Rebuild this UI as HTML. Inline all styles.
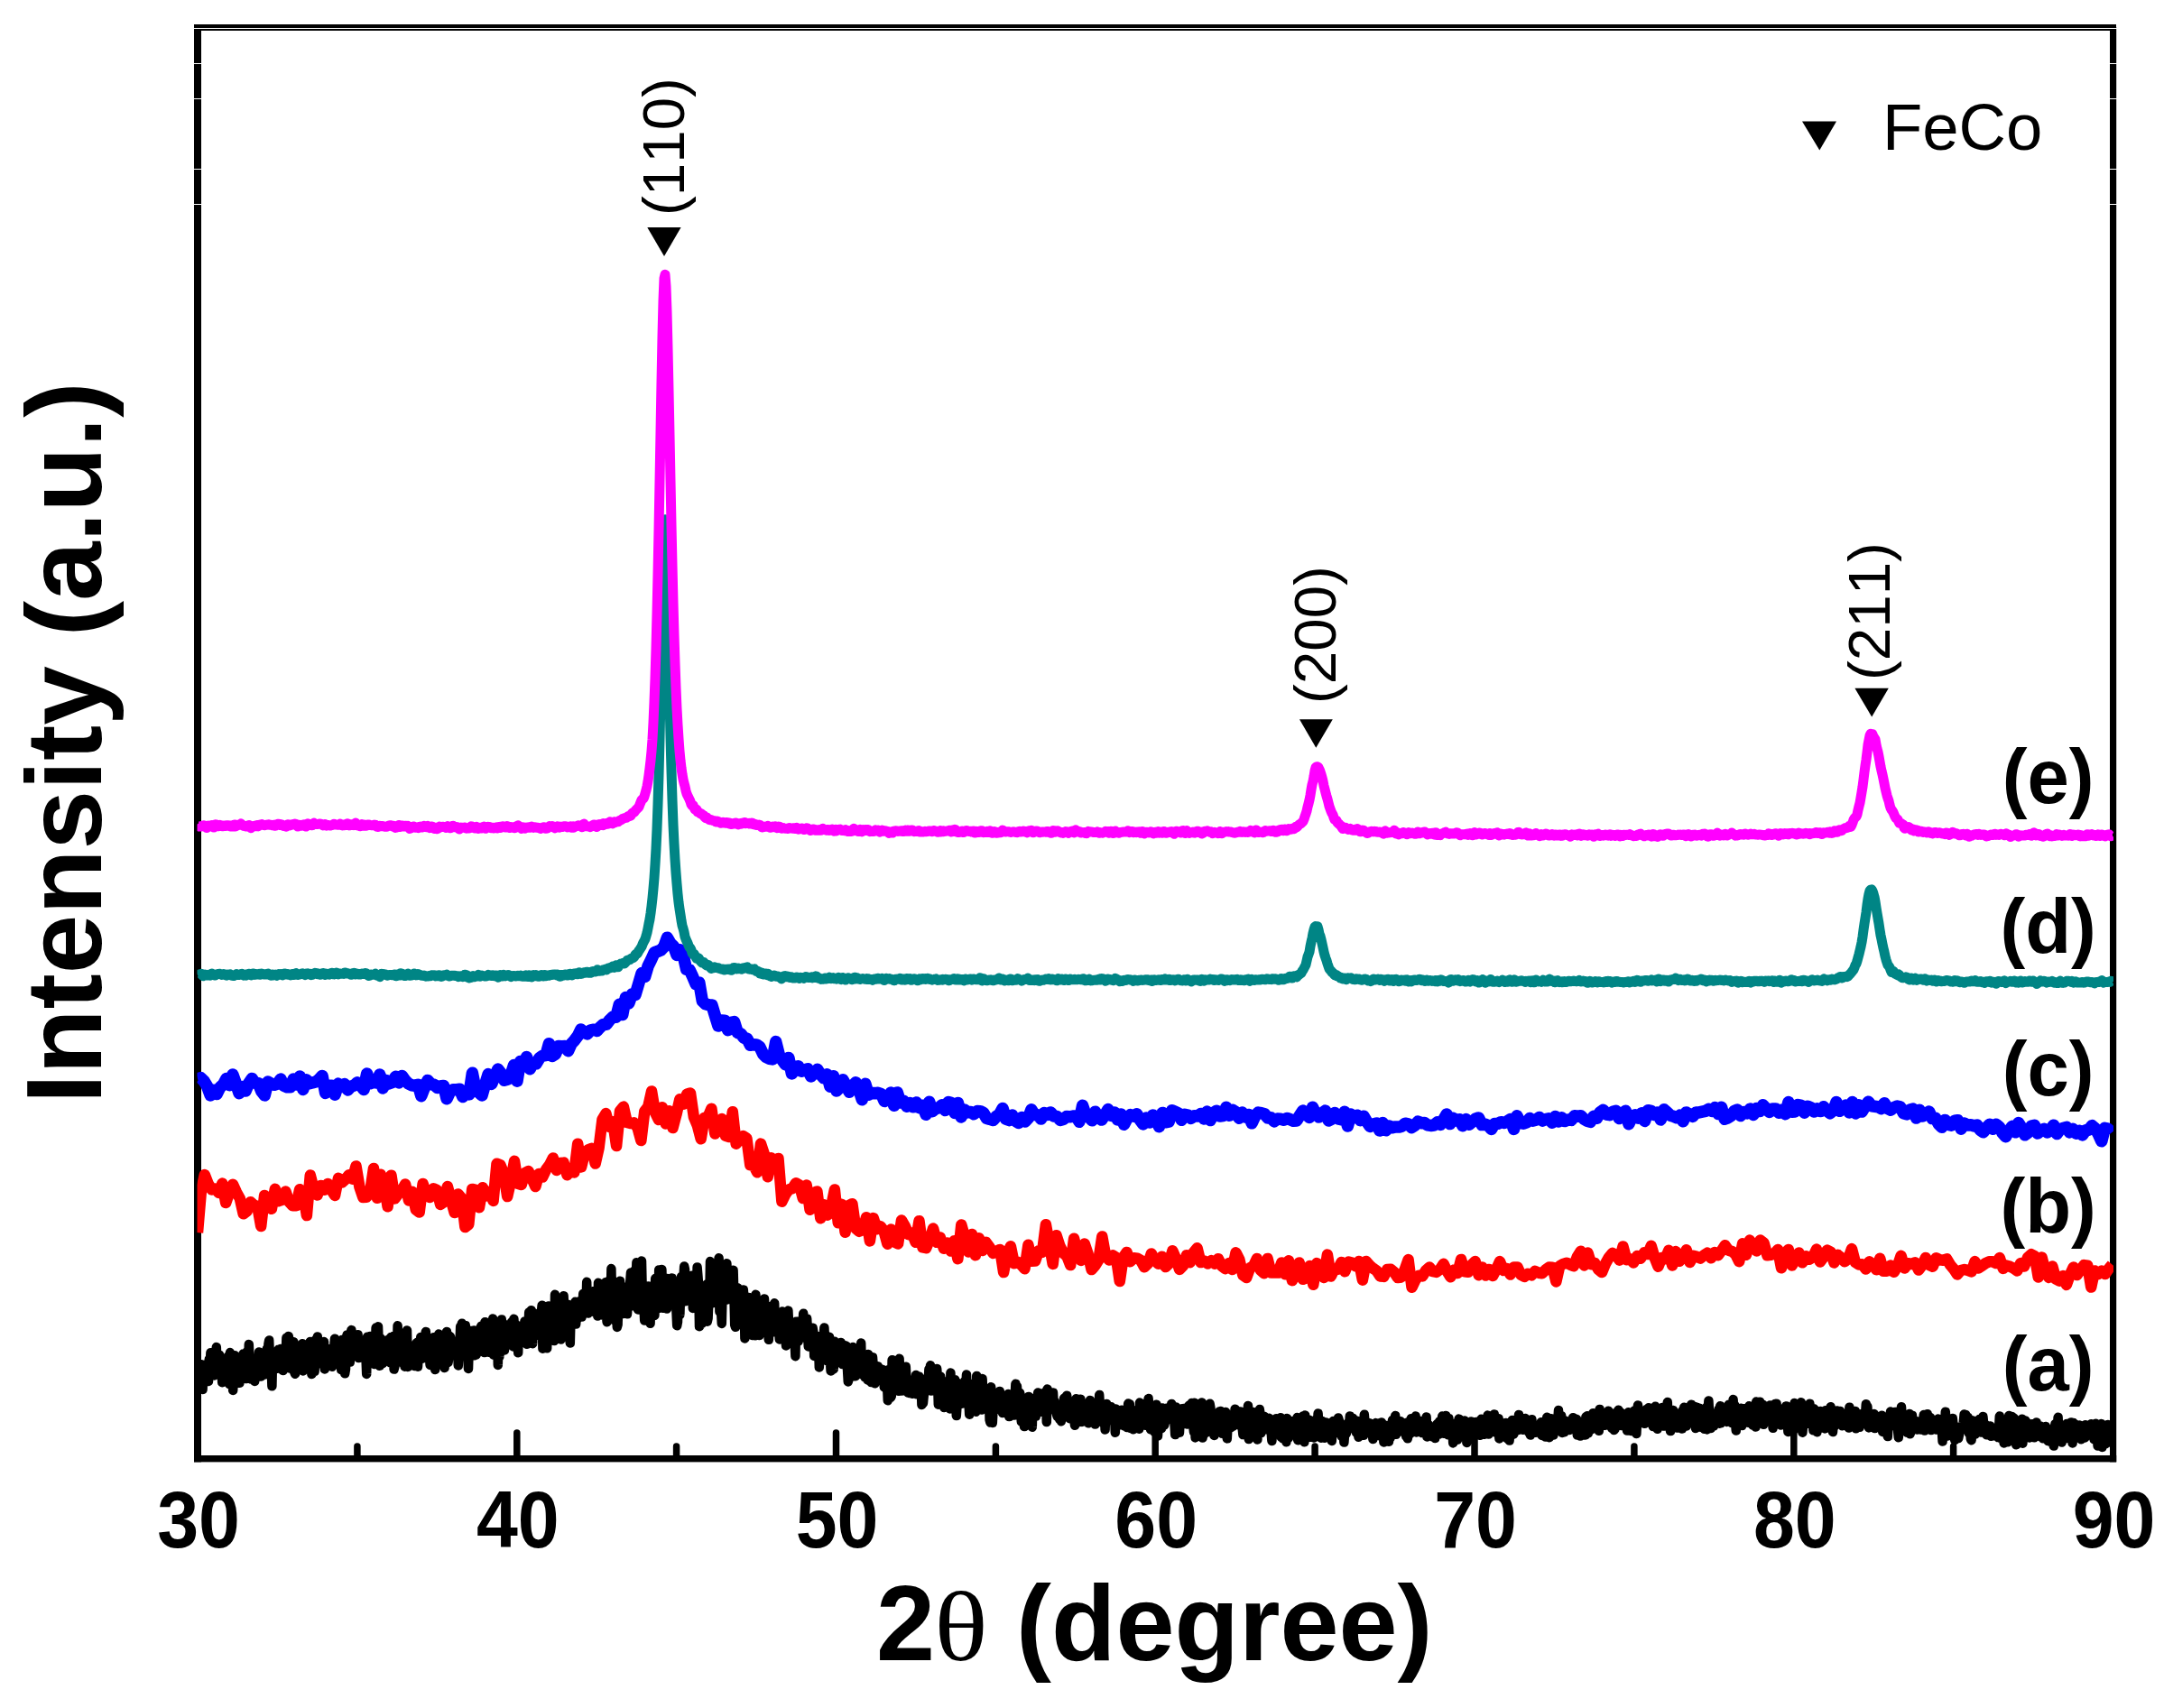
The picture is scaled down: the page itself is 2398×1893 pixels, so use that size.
<!DOCTYPE html>
<html lang="en"><head><meta charset="utf-8"><title>XRD patterns</title>
<style>html,body{margin:0;padding:0;background:#fff}svg{display:block}text{font-kerning:none;font-feature-settings:"kern" 0,"liga" 0}</style></head>
<body>
<svg width="2398" height="1893" viewBox="0 0 2398 1893">
<rect width="2398" height="1893" fill="#fff"/>
<g fill="#000">
<rect x="215" y="27" width="2130" height="7"/>
<rect x="215" y="30" width="8" height="1590.4"/>
<rect x="2338" y="30" width="7.2" height="1590.4"/>
<rect x="215" y="1613" width="2130.2" height="7.4"/>
</g>
<g fill="#fff">
<rect x="214" y="31" width="2132" height="1"/>
<rect x="214" y="70" width="10" height="1"/>
<rect x="2337" y="70" width="10" height="1"/>
<rect x="214" y="109" width="10" height="1"/>
<rect x="2337" y="109" width="10" height="1"/>
<rect x="214" y="187" width="10" height="1"/>
<rect x="2337" y="187" width="10" height="1"/>
<rect x="214" y="226" width="10" height="1"/>
<rect x="2337" y="226" width="10" height="1"/>
</g>
<g stroke="#000" stroke-width="7.5" stroke-linecap="round">
<line x1="395.9" y1="1603" x2="395.9" y2="1614"/>
<line x1="572.8" y1="1588" x2="572.8" y2="1614"/>
<line x1="749.6" y1="1603" x2="749.6" y2="1614"/>
<line x1="926.5" y1="1588" x2="926.5" y2="1614"/>
<line x1="1103.4" y1="1603" x2="1103.4" y2="1614"/>
<line x1="1280.2" y1="1588" x2="1280.2" y2="1614"/>
<line x1="1457.1" y1="1603" x2="1457.1" y2="1614"/>
<line x1="1634.0" y1="1588" x2="1634.0" y2="1614"/>
<line x1="1810.9" y1="1603" x2="1810.9" y2="1614"/>
<line x1="1987.8" y1="1588" x2="1987.8" y2="1614"/>
<line x1="2164.6" y1="1603" x2="2164.6" y2="1614"/>
</g>
<clipPath id="cp"><rect x="218.5" y="34" width="2123.5" height="1581"/></clipPath>
<g clip-path="url(#cp)">
<polyline fill="none" stroke="#000000" stroke-width="10.5" stroke-linejoin="round" stroke-linecap="butt" points="219.0,1524.8 219.8,1528.3 220.6,1521.3 221.4,1513.8 222.2,1518.9 223.0,1512.3 223.8,1524.7 224.6,1539.9 225.4,1517.8 226.2,1516.1 227.0,1529.2 227.8,1527.5 228.6,1524.3 229.4,1511.7 230.2,1522.4 231.0,1530.9 231.8,1506.3 232.6,1516.7 233.4,1499.2 234.2,1506.4 235.0,1499.6 235.8,1518.7 236.6,1506.2 237.4,1524.5 238.2,1523.0 239.0,1518.7 239.8,1493.1 240.6,1514.1 241.4,1519.8 242.2,1521.6 243.0,1501.7 243.8,1514.2 244.6,1508.0 245.4,1509.9 246.2,1532.2 247.0,1509.6 247.8,1518.7 248.6,1529.6 249.4,1511.8 250.2,1517.3 251.0,1519.8 251.8,1519.1 252.6,1503.4 253.4,1518.9 254.2,1534.1 255.0,1499.1 255.8,1527.8 256.6,1518.7 257.4,1509.4 258.2,1541.0 259.0,1526.0 259.8,1502.3 260.6,1517.4 261.4,1523.3 262.2,1513.9 263.0,1524.2 263.8,1515.1 264.6,1523.7 265.4,1532.8 266.2,1507.3 267.0,1517.7 267.8,1509.6 268.6,1516.6 269.4,1500.6 270.2,1507.8 271.0,1512.3 271.8,1525.3 272.6,1528.1 273.4,1498.3 274.2,1504.5 275.0,1521.7 275.8,1489.9 276.6,1508.1 277.4,1512.3 278.2,1528.5 279.0,1521.5 279.8,1509.2 280.6,1508.5 281.4,1509.8 282.2,1531.0 283.0,1507.4 283.8,1508.8 284.6,1516.5 285.4,1510.7 286.2,1509.6 287.0,1498.5 287.8,1511.6 288.6,1506.2 289.4,1525.4 290.2,1519.1 291.0,1510.9 291.8,1519.0 292.6,1506.8 293.4,1523.4 294.2,1510.5 295.0,1517.5 295.8,1494.8 296.6,1514.3 297.4,1489.8 298.2,1485.5 299.0,1506.1 299.8,1498.8 300.6,1511.5 301.4,1536.3 302.2,1499.2 303.0,1501.6 303.8,1511.4 304.6,1514.7 305.4,1506.5 306.2,1506.1 307.0,1516.8 307.8,1514.5 308.6,1495.7 309.4,1507.0 310.2,1508.3 311.0,1495.0 311.8,1510.7 312.6,1497.1 313.4,1519.0 314.2,1509.5 315.0,1508.1 315.8,1499.8 316.6,1505.4 317.4,1482.7 318.2,1493.0 319.0,1510.9 319.8,1480.9 320.6,1516.5 321.4,1485.3 322.2,1515.2 323.0,1495.9 323.8,1515.3 324.6,1507.4 325.4,1487.3 326.2,1520.6 327.0,1522.8 327.8,1504.6 328.6,1502.0 329.4,1503.3 330.2,1493.4 331.0,1518.2 331.8,1498.4 332.6,1504.2 333.4,1495.2 334.2,1497.1 335.0,1489.2 335.8,1519.5 336.6,1502.5 337.4,1515.8 338.2,1504.3 339.0,1495.7 339.8,1500.0 340.6,1497.1 341.4,1503.9 342.2,1499.2 343.0,1500.0 343.8,1486.9 344.6,1493.7 345.4,1523.1 346.2,1495.1 347.0,1490.4 347.8,1507.0 348.6,1519.8 349.4,1485.3 350.2,1500.2 351.0,1495.0 351.8,1481.4 352.6,1511.2 353.4,1502.0 354.2,1503.0 355.0,1493.1 355.8,1507.5 356.6,1495.4 357.4,1500.1 358.2,1488.4 359.0,1487.0 359.8,1517.5 360.6,1495.3 361.4,1504.8 362.2,1500.8 363.0,1495.8 363.8,1494.9 364.6,1508.5 365.4,1497.2 366.2,1498.9 367.0,1500.9 367.8,1514.7 368.6,1508.7 369.4,1505.0 370.2,1493.6 371.0,1483.8 371.8,1511.7 372.6,1511.9 373.4,1498.5 374.2,1506.7 375.0,1509.5 375.8,1510.1 376.6,1511.1 377.4,1494.6 378.2,1518.2 379.0,1485.0 379.8,1510.2 380.6,1505.8 381.4,1510.3 382.2,1522.3 383.0,1517.5 383.8,1486.0 384.6,1479.4 385.4,1509.4 386.2,1487.4 387.0,1499.4 387.8,1509.6 388.6,1479.7 389.4,1474.1 390.2,1502.5 391.0,1499.9 391.8,1496.3 392.6,1499.7 393.4,1488.9 394.2,1481.0 395.0,1497.1 395.8,1487.4 396.6,1479.3 397.4,1505.1 398.2,1498.2 399.0,1503.8 399.8,1487.0 400.6,1490.9 401.4,1486.8 402.2,1488.1 403.0,1501.1 403.8,1489.3 404.6,1502.9 405.4,1502.7 406.2,1522.9 407.0,1481.8 407.8,1509.1 408.6,1497.4 409.4,1498.2 410.2,1481.0 411.0,1492.8 411.8,1507.2 412.6,1497.2 413.4,1499.2 414.2,1494.7 415.0,1512.0 415.8,1497.8 416.6,1471.6 417.4,1489.7 418.2,1474.3 419.0,1470.3 419.8,1491.5 420.6,1513.8 421.4,1498.3 422.2,1483.7 423.0,1486.4 423.8,1511.2 424.6,1499.5 425.4,1498.1 426.2,1496.9 427.0,1497.9 427.8,1507.1 428.6,1504.0 429.4,1499.9 430.2,1484.8 431.0,1503.4 431.8,1489.0 432.6,1510.3 433.4,1481.9 434.2,1495.4 435.0,1497.0 435.8,1481.1 436.6,1517.6 437.4,1514.5 438.2,1491.3 439.0,1506.1 439.8,1501.3 440.6,1469.2 441.4,1499.7 442.2,1495.9 443.0,1497.6 443.8,1483.7 444.6,1493.3 445.4,1494.4 446.2,1510.7 447.0,1500.4 447.8,1496.3 448.6,1514.7 449.4,1489.6 450.2,1491.6 451.0,1474.4 451.8,1515.0 452.6,1507.7 453.4,1507.1 454.2,1504.1 455.0,1497.3 455.8,1498.5 456.6,1492.9 457.4,1493.4 458.2,1496.5 459.0,1513.9 459.8,1502.4 460.6,1495.0 461.4,1488.7 462.2,1488.0 463.0,1514.8 463.8,1501.6 464.6,1496.3 465.4,1491.3 466.2,1482.1 467.0,1494.5 467.8,1505.8 468.6,1490.6 469.4,1492.5 470.2,1492.5 471.0,1496.4 471.8,1476.0 472.6,1492.2 473.4,1484.7 474.2,1505.5 475.0,1485.5 475.8,1501.6 476.6,1512.9 477.4,1490.8 478.2,1487.2 479.0,1496.6 479.8,1494.2 480.6,1482.2 481.4,1499.6 482.2,1518.1 483.0,1490.7 483.8,1491.3 484.6,1481.1 485.4,1497.4 486.2,1478.5 487.0,1480.1 487.8,1508.6 488.6,1482.3 489.4,1506.0 490.2,1511.3 491.0,1496.0 491.8,1499.4 492.6,1516.1 493.4,1490.2 494.2,1485.4 495.0,1476.1 495.8,1492.8 496.6,1509.9 497.4,1503.6 498.2,1480.7 499.0,1481.6 499.8,1485.7 500.6,1495.2 501.4,1489.1 502.2,1494.1 503.0,1495.0 503.8,1487.7 504.6,1490.7 505.4,1493.6 506.2,1490.0 507.0,1497.0 507.8,1513.4 508.6,1497.9 509.4,1491.3 510.2,1470.1 511.0,1495.1 511.8,1466.7 512.6,1473.1 513.4,1500.5 514.2,1498.6 515.0,1488.1 515.8,1469.1 516.6,1485.2 517.4,1481.4 518.2,1497.3 519.0,1517.0 519.8,1492.0 520.6,1479.7 521.4,1474.9 522.2,1488.4 523.0,1486.8 523.8,1474.8 524.6,1490.2 525.4,1474.5 526.2,1502.2 527.0,1501.4 527.8,1501.6 528.6,1482.3 529.4,1494.3 530.2,1486.2 531.0,1482.9 531.8,1483.4 532.6,1471.4 533.4,1469.5 534.2,1497.0 535.0,1484.7 535.8,1489.6 536.6,1499.1 537.4,1465.2 538.2,1476.8 539.0,1488.5 539.8,1491.1 540.6,1481.4 541.4,1498.7 542.2,1488.4 543.0,1470.6 543.8,1473.9 544.6,1495.4 545.4,1491.0 546.2,1461.4 547.0,1501.8 547.8,1492.3 548.6,1501.4 549.4,1479.7 550.2,1480.7 551.0,1470.2 551.8,1512.9 552.6,1481.8 553.4,1503.7 554.2,1475.6 555.0,1485.6 555.8,1462.4 556.6,1478.5 557.4,1495.5 558.2,1467.3 559.0,1496.4 559.8,1487.0 560.6,1469.4 561.4,1476.1 562.2,1476.5 563.0,1481.6 563.8,1475.3 564.6,1471.4 565.4,1477.9 566.2,1468.6 567.0,1465.1 567.8,1480.7 568.6,1492.4 569.4,1461.7 570.2,1481.0 571.0,1472.5 571.8,1468.2 572.6,1491.4 573.4,1473.8 574.2,1499.3 575.0,1470.2 575.8,1484.9 576.6,1476.9 577.4,1470.0 578.2,1486.9 579.0,1477.2 579.8,1486.7 580.6,1478.1 581.4,1464.5 582.2,1476.8 583.0,1478.5 583.8,1489.8 584.6,1465.5 585.4,1476.3 586.2,1454.4 587.0,1484.6 587.8,1462.0 588.6,1452.3 589.4,1474.5 590.2,1489.2 591.0,1454.9 591.8,1460.2 592.6,1464.4 593.4,1459.0 594.2,1478.2 595.0,1462.5 595.8,1463.3 596.6,1479.9 597.4,1462.2 598.2,1477.3 599.0,1458.8 599.8,1455.3 600.6,1446.8 601.4,1494.8 602.2,1465.9 603.0,1473.0 603.8,1469.1 604.6,1471.4 605.4,1469.7 606.2,1494.3 607.0,1454.6 607.8,1447.4 608.6,1454.5 609.4,1449.9 610.2,1478.0 611.0,1478.8 611.8,1454.3 612.6,1448.1 613.4,1462.2 614.2,1486.1 615.0,1434.8 615.8,1473.8 616.6,1451.2 617.4,1480.6 618.2,1450.6 619.0,1461.5 619.8,1444.0 620.6,1451.1 621.4,1484.5 622.2,1476.1 623.0,1458.3 623.8,1451.3 624.6,1436.2 625.4,1457.5 626.2,1462.4 627.0,1461.4 627.8,1460.9 628.6,1445.5 629.4,1460.7 630.2,1460.8 631.0,1480.2 631.8,1488.5 632.6,1458.4 633.4,1448.7 634.2,1458.9 635.0,1450.4 635.8,1448.1 636.6,1458.1 637.4,1442.8 638.2,1467.6 639.0,1456.5 639.8,1461.6 640.6,1454.6 641.4,1445.9 642.2,1442.2 643.0,1452.9 643.8,1447.7 644.6,1459.6 645.4,1455.6 646.2,1433.9 647.0,1456.1 647.8,1433.5 648.6,1444.7 649.4,1449.4 650.2,1420.8 651.0,1455.0 651.8,1455.6 652.6,1450.4 653.4,1445.8 654.2,1446.3 655.0,1436.2 655.8,1447.3 656.6,1442.4 657.4,1452.7 658.2,1431.1 659.0,1454.5 659.8,1452.7 660.6,1447.7 661.4,1442.5 662.2,1458.6 663.0,1421.7 663.8,1456.5 664.6,1452.6 665.4,1453.0 666.2,1454.4 667.0,1437.0 667.8,1443.2 668.6,1457.8 669.4,1454.1 670.2,1450.1 671.0,1421.3 671.8,1455.0 672.6,1465.2 673.4,1462.2 674.2,1449.1 675.0,1419.2 675.8,1460.3 676.6,1442.0 677.4,1406.1 678.2,1450.1 679.0,1418.9 679.8,1421.8 680.6,1432.5 681.4,1463.8 682.2,1436.3 683.0,1446.7 683.8,1470.9 684.6,1468.0 685.4,1439.6 686.2,1437.0 687.0,1419.8 687.8,1429.0 688.6,1447.3 689.4,1446.5 690.2,1441.5 691.0,1455.9 691.8,1426.4 692.6,1438.1 693.4,1451.0 694.2,1448.4 695.0,1456.3 695.8,1444.9 696.6,1433.1 697.4,1444.1 698.2,1421.3 699.0,1410.6 699.8,1447.3 700.6,1436.6 701.4,1442.5 702.2,1409.0 703.0,1431.1 703.8,1427.0 704.6,1422.5 705.4,1399.2 706.2,1431.0 707.0,1451.4 707.8,1442.7 708.6,1426.2 709.4,1435.8 710.2,1448.5 711.0,1397.4 711.8,1433.6 712.6,1444.5 713.4,1446.7 714.2,1463.6 715.0,1454.0 715.8,1440.2 716.6,1439.8 717.4,1447.8 718.2,1425.5 719.0,1433.7 719.8,1449.4 720.6,1466.8 721.4,1431.3 722.2,1433.0 723.0,1437.0 723.8,1456.0 724.6,1432.9 725.4,1457.9 726.2,1417.0 727.0,1430.0 727.8,1429.6 728.6,1446.0 729.4,1450.2 730.2,1407.4 731.0,1417.3 731.8,1438.2 732.6,1421.5 733.4,1407.0 734.2,1449.8 735.0,1440.7 735.8,1440.6 736.6,1424.3 737.4,1449.5 738.2,1428.2 739.0,1450.6 739.8,1416.9 740.6,1417.8 741.4,1435.5 742.2,1420.2 743.0,1443.3 743.8,1436.3 744.6,1416.4 745.4,1433.1 746.2,1425.9 747.0,1447.1 747.8,1421.1 748.6,1424.3 749.4,1452.0 750.2,1469.2 751.0,1465.1 751.8,1432.6 752.6,1435.2 753.4,1457.2 754.2,1429.3 755.0,1415.0 755.8,1433.3 756.6,1438.9 757.4,1417.3 758.2,1403.5 759.0,1407.0 759.8,1442.3 760.6,1418.3 761.4,1428.7 762.2,1434.6 763.0,1441.4 763.8,1425.3 764.6,1439.3 765.4,1415.9 766.2,1424.8 767.0,1413.7 767.8,1450.0 768.6,1430.5 769.4,1418.6 770.2,1425.2 771.0,1427.4 771.8,1443.1 772.6,1404.4 773.4,1413.9 774.2,1425.0 775.0,1470.3 775.8,1447.7 776.6,1429.7 777.4,1443.7 778.2,1466.5 779.0,1427.8 779.8,1425.7 780.6,1452.4 781.4,1440.3 782.2,1443.4 783.0,1423.5 783.8,1464.7 784.6,1461.1 785.4,1441.8 786.2,1443.9 787.0,1398.1 787.8,1443.2 788.6,1429.2 789.4,1439.9 790.2,1444.2 791.0,1426.9 791.8,1404.1 792.6,1439.0 793.4,1420.3 794.2,1427.3 795.0,1422.8 795.8,1427.3 796.6,1394.2 797.4,1453.8 798.2,1437.5 799.0,1452.1 799.8,1466.9 800.6,1433.8 801.4,1403.0 802.2,1418.5 803.0,1413.3 803.8,1425.4 804.6,1435.5 805.4,1400.3 806.2,1440.4 807.0,1409.1 807.8,1440.1 808.6,1433.4 809.4,1430.2 810.2,1434.5 811.0,1426.8 811.8,1425.8 812.6,1407.8 813.4,1436.1 814.2,1468.3 815.0,1470.8 815.8,1459.8 816.6,1449.8 817.4,1427.3 818.2,1463.0 819.0,1439.0 819.8,1439.7 820.6,1437.1 821.4,1444.3 822.2,1437.1 823.0,1443.8 823.8,1429.4 824.6,1441.7 825.4,1483.4 826.2,1448.7 827.0,1447.3 827.8,1459.9 828.6,1463.6 829.4,1438.0 830.2,1452.2 831.0,1469.3 831.8,1460.8 832.6,1459.4 833.4,1480.0 834.2,1449.6 835.0,1460.6 835.8,1452.9 836.6,1480.3 837.4,1434.8 838.2,1452.3 839.0,1454.5 839.8,1470.3 840.6,1469.8 841.4,1480.0 842.2,1443.1 843.0,1472.2 843.8,1459.7 844.6,1455.5 845.4,1470.2 846.2,1453.0 847.0,1439.4 847.8,1460.1 848.6,1446.9 849.4,1457.3 850.2,1469.8 851.0,1469.3 851.8,1484.8 852.6,1463.7 853.4,1448.0 854.2,1457.6 855.0,1455.9 855.8,1452.6 856.6,1472.6 857.4,1460.0 858.2,1444.3 859.0,1476.5 859.8,1467.1 860.6,1472.9 861.4,1470.2 862.2,1476.7 863.0,1469.9 863.8,1484.4 864.6,1475.0 865.4,1474.9 866.2,1475.4 867.0,1453.5 867.8,1469.1 868.6,1468.2 869.4,1474.0 870.2,1455.7 871.0,1491.4 871.8,1473.5 872.6,1458.3 873.4,1452.6 874.2,1469.8 875.0,1472.3 875.8,1465.2 876.6,1475.1 877.4,1466.7 878.2,1481.1 879.0,1466.5 879.8,1474.9 880.6,1487.3 881.4,1503.2 882.2,1464.7 883.0,1471.4 883.8,1467.4 884.6,1486.9 885.4,1464.6 886.2,1472.7 887.0,1478.5 887.8,1467.7 888.6,1468.4 889.4,1474.4 890.2,1455.8 891.0,1463.8 891.8,1476.3 892.6,1483.2 893.4,1479.7 894.2,1461.6 895.0,1477.2 895.8,1492.4 896.6,1489.9 897.4,1482.9 898.2,1473.9 899.0,1491.9 899.8,1478.2 900.6,1471.7 901.4,1476.4 902.2,1503.0 903.0,1489.1 903.8,1500.4 904.6,1481.7 905.4,1498.6 906.2,1481.1 907.0,1486.6 907.8,1515.5 908.6,1498.1 909.4,1483.8 910.2,1489.0 911.0,1494.1 911.8,1504.8 912.6,1485.5 913.4,1471.4 914.2,1488.7 915.0,1492.5 915.8,1494.0 916.6,1508.3 917.4,1497.2 918.2,1503.4 919.0,1481.7 919.8,1504.8 920.6,1519.4 921.4,1504.5 922.2,1499.0 923.0,1498.2 923.8,1517.4 924.6,1486.7 925.4,1496.4 926.2,1503.4 927.0,1507.1 927.8,1493.9 928.6,1502.9 929.4,1496.6 930.2,1501.6 931.0,1499.1 931.8,1488.0 932.6,1501.2 933.4,1511.9 934.2,1491.2 935.0,1499.9 935.8,1510.7 936.6,1491.3 937.4,1506.0 938.2,1492.3 939.0,1517.7 939.8,1531.4 940.6,1528.6 941.4,1503.5 942.2,1514.9 943.0,1508.2 943.8,1508.4 944.6,1525.3 945.4,1493.1 946.2,1520.5 947.0,1508.4 947.8,1525.3 948.6,1511.9 949.4,1502.5 950.2,1513.7 951.0,1519.3 951.8,1511.8 952.6,1517.3 953.4,1506.3 954.2,1488.5 955.0,1523.1 955.8,1521.2 956.6,1515.4 957.4,1514.9 958.2,1526.2 959.0,1509.7 959.8,1507.3 960.6,1513.5 961.4,1529.4 962.2,1500.9 963.0,1530.2 963.8,1510.0 964.6,1505.3 965.4,1532.1 966.2,1517.3 967.0,1504.2 967.8,1515.2 968.6,1530.0 969.4,1533.3 970.2,1515.6 971.0,1525.3 971.8,1529.1 972.6,1514.3 973.4,1525.9 974.2,1521.9 975.0,1516.7 975.8,1517.6 976.6,1524.2 977.4,1524.2 978.2,1517.9 979.0,1519.9 979.8,1537.4 980.6,1527.8 981.4,1535.6 982.2,1539.5 983.0,1533.1 983.8,1552.2 984.6,1518.2 985.4,1536.7 986.2,1524.5 987.0,1548.9 987.8,1547.5 988.6,1507.3 989.4,1518.4 990.2,1536.7 991.0,1538.3 991.8,1537.8 992.6,1529.1 993.4,1535.0 994.2,1537.3 995.0,1529.4 995.8,1541.8 996.6,1505.7 997.4,1537.7 998.2,1519.5 999.0,1541.6 999.8,1528.6 1000.6,1521.5 1001.4,1535.6 1002.2,1521.6 1003.0,1521.7 1003.8,1514.7 1004.6,1531.7 1005.4,1537.6 1006.2,1543.5 1007.0,1530.9 1007.8,1544.1 1008.6,1533.0 1009.4,1531.9 1010.2,1539.3 1011.0,1544.8 1011.8,1529.6 1012.6,1530.8 1013.4,1531.9 1014.2,1534.7 1015.0,1524.1 1015.8,1545.3 1016.6,1529.9 1017.4,1539.4 1018.2,1525.5 1019.0,1538.6 1019.8,1539.1 1020.6,1530.4 1021.4,1557.1 1022.2,1539.3 1023.0,1554.8 1023.8,1546.1 1024.6,1528.6 1025.4,1531.8 1026.2,1540.9 1027.0,1537.1 1027.8,1537.1 1028.6,1533.7 1029.4,1517.4 1030.2,1534.7 1031.0,1513.3 1031.8,1541.6 1032.6,1529.9 1033.4,1530.2 1034.2,1535.8 1035.0,1541.3 1035.8,1523.1 1036.6,1519.9 1037.4,1527.4 1038.2,1517.1 1039.0,1528.9 1039.8,1556.7 1040.6,1528.3 1041.4,1547.0 1042.2,1525.4 1043.0,1543.6 1043.8,1537.1 1044.6,1540.1 1045.4,1547.1 1046.2,1560.0 1047.0,1543.4 1047.8,1542.9 1048.6,1531.3 1049.4,1548.2 1050.2,1539.5 1051.0,1551.2 1051.8,1542.0 1052.6,1561.4 1053.4,1521.6 1054.2,1539.9 1055.0,1552.7 1055.8,1539.7 1056.6,1535.2 1057.4,1541.0 1058.2,1529.3 1059.0,1545.6 1059.8,1569.1 1060.6,1556.9 1061.4,1533.0 1062.2,1535.8 1063.0,1541.0 1063.8,1556.2 1064.6,1536.9 1065.4,1538.5 1066.2,1555.5 1067.0,1555.5 1067.8,1542.5 1068.6,1534.7 1069.4,1530.3 1070.2,1539.6 1071.0,1523.5 1071.8,1555.3 1072.6,1540.8 1073.4,1552.8 1074.2,1567.7 1075.0,1560.4 1075.8,1535.9 1076.6,1557.5 1077.4,1560.7 1078.2,1540.7 1079.0,1538.7 1079.8,1547.8 1080.6,1532.2 1081.4,1564.8 1082.2,1525.1 1083.0,1537.9 1083.8,1546.9 1084.6,1547.5 1085.4,1551.8 1086.2,1553.1 1087.0,1548.1 1087.8,1562.5 1088.6,1528.1 1089.4,1550.8 1090.2,1543.5 1091.0,1552.5 1091.8,1553.6 1092.6,1541.9 1093.4,1544.9 1094.2,1560.1 1095.0,1555.6 1095.8,1545.0 1096.6,1573.7 1097.4,1576.6 1098.2,1537.2 1099.0,1555.9 1099.8,1577.0 1100.6,1561.3 1101.4,1555.5 1102.2,1551.2 1103.0,1547.9 1103.8,1551.5 1104.6,1548.1 1105.4,1561.8 1106.2,1550.0 1107.0,1549.7 1107.8,1541.9 1108.6,1554.1 1109.4,1545.5 1110.2,1553.1 1111.0,1566.0 1111.8,1559.1 1112.6,1560.7 1113.4,1559.3 1114.2,1556.3 1115.0,1554.5 1115.8,1552.8 1116.6,1563.9 1117.4,1544.9 1118.2,1570.1 1119.0,1556.7 1119.8,1548.7 1120.6,1551.5 1121.4,1549.6 1122.2,1558.3 1123.0,1549.4 1123.8,1568.6 1124.6,1548.9 1125.4,1533.8 1126.2,1549.6 1127.0,1536.7 1127.8,1556.9 1128.6,1568.1 1129.4,1564.0 1130.2,1543.9 1131.0,1549.9 1131.8,1575.7 1132.6,1561.0 1133.4,1557.9 1134.2,1568.6 1135.0,1581.1 1135.8,1571.1 1136.6,1559.6 1137.4,1561.8 1138.2,1564.5 1139.0,1552.3 1139.8,1547.9 1140.6,1559.1 1141.4,1549.2 1142.2,1558.1 1143.0,1559.8 1143.8,1581.7 1144.6,1550.6 1145.4,1557.9 1146.2,1557.5 1147.0,1563.5 1147.8,1569.6 1148.6,1554.6 1149.4,1551.4 1150.2,1543.5 1151.0,1550.6 1151.8,1565.0 1152.6,1560.3 1153.4,1550.0 1154.2,1556.3 1155.0,1560.4 1155.8,1565.0 1156.6,1554.5 1157.4,1557.9 1158.2,1542.8 1159.0,1549.4 1159.8,1576.1 1160.6,1539.6 1161.4,1557.5 1162.2,1562.9 1163.0,1557.3 1163.8,1553.2 1164.6,1560.5 1165.4,1561.1 1166.2,1560.4 1167.0,1543.4 1167.8,1560.0 1168.6,1553.3 1169.4,1556.4 1170.2,1563.8 1171.0,1567.7 1171.8,1570.2 1172.6,1557.2 1173.4,1570.6 1174.2,1573.0 1175.0,1572.8 1175.8,1575.2 1176.6,1560.9 1177.4,1560.7 1178.2,1570.1 1179.0,1549.8 1179.8,1564.5 1180.6,1557.8 1181.4,1559.4 1182.2,1546.8 1183.0,1554.7 1183.8,1562.8 1184.6,1571.3 1185.4,1572.3 1186.2,1562.5 1187.0,1561.6 1187.8,1555.8 1188.6,1567.2 1189.4,1561.3 1190.2,1569.2 1191.0,1579.7 1191.8,1563.5 1192.6,1550.3 1193.4,1556.2 1194.2,1550.9 1195.0,1553.4 1195.8,1576.0 1196.6,1566.4 1197.4,1550.8 1198.2,1570.4 1199.0,1575.9 1199.8,1561.4 1200.6,1558.7 1201.4,1561.8 1202.2,1567.4 1203.0,1570.7 1203.8,1575.6 1204.6,1575.9 1205.4,1575.7 1206.2,1577.3 1207.0,1571.2 1207.8,1552.0 1208.6,1564.4 1209.4,1568.4 1210.2,1562.3 1211.0,1573.7 1211.8,1562.6 1212.6,1557.7 1213.4,1578.6 1214.2,1571.8 1215.0,1568.0 1215.8,1574.2 1216.6,1575.5 1217.4,1569.2 1218.2,1546.0 1219.0,1560.4 1219.8,1562.4 1220.6,1557.8 1221.4,1568.3 1222.2,1577.1 1223.0,1562.4 1223.8,1556.7 1224.6,1584.6 1225.4,1562.8 1226.2,1556.0 1227.0,1569.0 1227.8,1570.7 1228.6,1560.8 1229.4,1574.1 1230.2,1562.9 1231.0,1559.1 1231.8,1568.9 1232.6,1574.1 1233.4,1561.8 1234.2,1570.4 1235.0,1566.7 1235.8,1587.8 1236.6,1561.4 1237.4,1579.9 1238.2,1567.3 1239.0,1566.7 1239.8,1574.2 1240.6,1575.8 1241.4,1579.2 1242.2,1571.0 1243.0,1562.8 1243.8,1563.5 1244.6,1572.7 1245.4,1573.4 1246.2,1580.7 1247.0,1572.1 1247.8,1577.8 1248.6,1581.9 1249.4,1570.1 1250.2,1555.6 1251.0,1558.3 1251.8,1556.1 1252.6,1582.9 1253.4,1561.4 1254.2,1579.8 1255.0,1574.2 1255.8,1584.2 1256.6,1578.0 1257.4,1568.3 1258.2,1567.5 1259.0,1570.1 1259.8,1570.9 1260.6,1564.8 1261.4,1569.2 1262.2,1583.7 1263.0,1554.6 1263.8,1572.0 1264.6,1561.8 1265.4,1571.5 1266.2,1577.3 1267.0,1569.4 1267.8,1576.8 1268.6,1556.1 1269.4,1579.8 1270.2,1564.9 1271.0,1575.7 1271.8,1571.9 1272.6,1550.1 1273.4,1563.8 1274.2,1572.4 1275.0,1584.2 1275.8,1573.1 1276.6,1572.9 1277.4,1558.3 1278.2,1583.4 1279.0,1586.7 1279.8,1571.1 1280.6,1569.0 1281.4,1556.8 1282.2,1578.8 1283.0,1591.4 1283.8,1577.5 1284.6,1582.4 1285.4,1576.1 1286.2,1562.7 1287.0,1583.2 1287.8,1560.6 1288.6,1569.7 1289.4,1574.1 1290.2,1579.4 1291.0,1575.4 1291.8,1575.2 1292.6,1565.1 1293.4,1560.6 1294.2,1572.5 1295.0,1565.8 1295.8,1560.6 1296.6,1561.0 1297.4,1567.9 1298.2,1556.0 1299.0,1560.5 1299.8,1558.0 1300.6,1574.0 1301.4,1576.0 1302.2,1590.1 1303.0,1559.4 1303.8,1566.6 1304.6,1580.6 1305.4,1570.8 1306.2,1569.8 1307.0,1587.7 1307.8,1569.8 1308.6,1562.7 1309.4,1561.4 1310.2,1575.8 1311.0,1575.6 1311.8,1561.1 1312.6,1564.5 1313.4,1577.7 1314.2,1578.1 1315.0,1567.6 1315.8,1578.6 1316.6,1578.2 1317.4,1557.8 1318.2,1570.6 1319.0,1576.9 1319.8,1568.4 1320.6,1555.0 1321.4,1571.0 1322.2,1580.0 1323.0,1587.1 1323.8,1554.7 1324.6,1593.4 1325.4,1564.0 1326.2,1581.9 1327.0,1584.3 1327.8,1582.2 1328.6,1575.1 1329.4,1563.9 1330.2,1579.2 1331.0,1567.8 1331.8,1554.4 1332.6,1593.6 1333.4,1580.1 1334.2,1589.6 1335.0,1566.4 1335.8,1586.6 1336.6,1587.7 1337.4,1587.4 1338.2,1574.1 1339.0,1564.2 1339.8,1572.9 1340.6,1555.8 1341.4,1560.1 1342.2,1575.3 1343.0,1566.2 1343.8,1573.2 1344.6,1573.7 1345.4,1590.9 1346.2,1585.6 1347.0,1574.3 1347.8,1584.9 1348.6,1568.3 1349.4,1572.0 1350.2,1582.5 1351.0,1564.5 1351.8,1572.6 1352.6,1564.0 1353.4,1576.0 1354.2,1588.7 1355.0,1568.9 1355.8,1577.0 1356.6,1567.7 1357.4,1565.7 1358.2,1565.0 1359.0,1587.4 1359.8,1594.4 1360.6,1579.4 1361.4,1569.5 1362.2,1581.3 1363.0,1572.8 1363.8,1582.2 1364.6,1578.0 1365.4,1577.9 1366.2,1580.7 1367.0,1570.9 1367.8,1572.4 1368.6,1561.7 1369.4,1572.2 1370.2,1564.2 1371.0,1574.7 1371.8,1568.1 1372.6,1576.8 1373.4,1579.7 1374.2,1564.5 1375.0,1569.5 1375.8,1568.5 1376.6,1582.3 1377.4,1590.1 1378.2,1583.2 1379.0,1573.5 1379.8,1588.2 1380.6,1564.1 1381.4,1588.6 1382.2,1571.2 1383.0,1557.9 1383.8,1595.1 1384.6,1589.3 1385.4,1568.3 1386.2,1578.0 1387.0,1575.0 1387.8,1577.6 1388.6,1564.9 1389.4,1571.3 1390.2,1580.6 1391.0,1578.7 1391.8,1586.6 1392.6,1577.7 1393.4,1595.5 1394.2,1571.5 1395.0,1579.3 1395.8,1562.1 1396.6,1567.5 1397.4,1588.1 1398.2,1570.2 1399.0,1582.0 1399.8,1577.4 1400.6,1569.8 1401.4,1575.4 1402.2,1574.2 1403.0,1574.5 1403.8,1584.3 1404.6,1583.6 1405.4,1574.2 1406.2,1571.7 1407.0,1581.1 1407.8,1578.2 1408.6,1587.0 1409.4,1596.9 1410.2,1585.8 1411.0,1579.1 1411.8,1578.2 1412.6,1573.1 1413.4,1572.8 1414.2,1572.2 1415.0,1576.9 1415.8,1576.8 1416.6,1585.8 1417.4,1577.2 1418.2,1578.9 1419.0,1571.3 1419.8,1593.0 1420.6,1584.5 1421.4,1594.2 1422.2,1586.8 1423.0,1592.1 1423.8,1579.1 1424.6,1586.4 1425.4,1598.2 1426.2,1572.1 1427.0,1589.9 1427.8,1593.7 1428.6,1584.3 1429.4,1586.9 1430.2,1590.7 1431.0,1576.4 1431.8,1584.4 1432.6,1574.9 1433.4,1576.4 1434.2,1576.9 1435.0,1580.4 1435.8,1582.6 1436.6,1584.9 1437.4,1571.1 1438.2,1596.2 1439.0,1590.2 1439.8,1587.0 1440.6,1579.1 1441.4,1581.1 1442.2,1585.8 1443.0,1584.8 1443.8,1569.6 1444.6,1587.3 1445.4,1598.2 1446.2,1568.6 1447.0,1589.2 1447.8,1584.7 1448.6,1581.2 1449.4,1591.9 1450.2,1573.6 1451.0,1583.3 1451.8,1592.7 1452.6,1580.8 1453.4,1579.2 1454.2,1583.1 1455.0,1579.1 1455.8,1593.4 1456.6,1575.8 1457.4,1588.7 1458.2,1573.4 1459.0,1587.3 1459.8,1581.7 1460.6,1566.5 1461.4,1582.5 1462.2,1574.9 1463.0,1579.4 1463.8,1593.7 1464.6,1574.7 1465.4,1575.1 1466.2,1593.1 1467.0,1583.6 1467.8,1593.8 1468.6,1585.2 1469.4,1576.6 1470.2,1582.4 1471.0,1591.7 1471.8,1589.7 1472.6,1583.0 1473.4,1583.4 1474.2,1582.3 1475.0,1579.0 1475.8,1596.9 1476.6,1583.2 1477.4,1575.1 1478.2,1579.8 1479.0,1588.4 1479.8,1587.9 1480.6,1582.3 1481.4,1578.6 1482.2,1583.6 1483.0,1571.5 1483.8,1574.2 1484.6,1589.1 1485.4,1580.1 1486.2,1586.1 1487.0,1592.2 1487.8,1588.1 1488.6,1583.6 1489.4,1598.6 1490.2,1588.2 1491.0,1581.0 1491.8,1588.7 1492.6,1586.4 1493.4,1577.4 1494.2,1584.0 1495.0,1582.3 1495.8,1569.5 1496.6,1582.2 1497.4,1581.4 1498.2,1580.3 1499.0,1571.8 1499.8,1580.9 1500.6,1583.2 1501.4,1584.2 1502.2,1575.4 1503.0,1587.9 1503.8,1574.8 1504.6,1581.9 1505.4,1592.7 1506.2,1578.5 1507.0,1579.8 1507.8,1591.0 1508.6,1580.7 1509.4,1581.3 1510.2,1585.0 1511.0,1590.8 1511.8,1567.8 1512.6,1577.6 1513.4,1576.3 1514.2,1575.8 1515.0,1577.4 1515.8,1577.5 1516.6,1585.5 1517.4,1577.2 1518.2,1584.3 1519.0,1586.3 1519.8,1578.3 1520.6,1584.4 1521.4,1595.0 1522.2,1585.7 1523.0,1579.0 1523.8,1583.0 1524.6,1577.1 1525.4,1585.4 1526.2,1589.6 1527.0,1577.8 1527.8,1582.1 1528.6,1591.3 1529.4,1580.1 1530.2,1584.9 1531.0,1576.4 1531.8,1577.9 1532.6,1580.0 1533.4,1598.5 1534.2,1580.8 1535.0,1580.0 1535.8,1579.8 1536.6,1582.5 1537.4,1588.1 1538.2,1585.0 1539.0,1597.7 1539.8,1585.1 1540.6,1593.6 1541.4,1585.6 1542.2,1587.8 1543.0,1573.9 1543.8,1582.9 1544.6,1583.3 1545.4,1582.1 1546.2,1569.1 1547.0,1589.8 1547.8,1581.1 1548.6,1580.8 1549.4,1582.1 1550.2,1582.3 1551.0,1586.6 1551.8,1575.2 1552.6,1577.5 1553.4,1585.8 1554.2,1584.8 1555.0,1581.3 1555.8,1580.0 1556.6,1578.2 1557.4,1583.5 1558.2,1591.9 1559.0,1576.7 1559.8,1594.3 1560.6,1589.7 1561.4,1580.9 1562.2,1589.3 1563.0,1574.0 1563.8,1572.2 1564.6,1575.3 1565.4,1581.2 1566.2,1581.8 1567.0,1580.5 1567.8,1584.7 1568.6,1569.6 1569.4,1587.4 1570.2,1574.5 1571.0,1579.6 1571.8,1581.3 1572.6,1576.3 1573.4,1574.8 1574.2,1577.3 1575.0,1584.0 1575.8,1588.1 1576.6,1587.9 1577.4,1577.4 1578.2,1578.8 1579.0,1577.9 1579.8,1587.2 1580.6,1570.4 1581.4,1592.5 1582.2,1580.9 1583.0,1578.9 1583.8,1586.5 1584.6,1591.2 1585.4,1586.5 1586.2,1591.3 1587.0,1585.2 1587.8,1592.5 1588.6,1592.6 1589.4,1583.6 1590.2,1594.0 1591.0,1585.4 1591.8,1584.9 1592.6,1578.1 1593.4,1582.4 1594.2,1589.6 1595.0,1575.5 1595.8,1588.7 1596.6,1586.7 1597.4,1586.2 1598.2,1569.6 1599.0,1583.7 1599.8,1588.7 1600.6,1579.3 1601.4,1585.0 1602.2,1569.0 1603.0,1588.9 1603.8,1580.0 1604.6,1590.3 1605.4,1572.1 1606.2,1589.1 1607.0,1582.9 1607.8,1589.9 1608.6,1578.3 1609.4,1580.3 1610.2,1599.4 1611.0,1578.8 1611.8,1579.6 1612.6,1582.5 1613.4,1577.5 1614.2,1592.2 1615.0,1595.7 1615.8,1579.5 1616.6,1572.6 1617.4,1591.9 1618.2,1591.5 1619.0,1589.5 1619.8,1591.7 1620.6,1578.2 1621.4,1582.8 1622.2,1574.7 1623.0,1574.5 1623.8,1590.4 1624.6,1579.4 1625.4,1599.0 1626.2,1584.3 1627.0,1579.5 1627.8,1589.0 1628.6,1595.6 1629.4,1586.9 1630.2,1575.5 1631.0,1586.0 1631.8,1592.7 1632.6,1580.2 1633.4,1578.3 1634.2,1590.2 1635.0,1584.3 1635.8,1576.1 1636.6,1580.8 1637.4,1578.3 1638.2,1585.2 1639.0,1584.0 1639.8,1590.8 1640.6,1587.9 1641.4,1572.8 1642.2,1585.8 1643.0,1589.0 1643.8,1586.1 1644.6,1589.8 1645.4,1579.4 1646.2,1576.7 1647.0,1589.1 1647.8,1575.8 1648.6,1568.6 1649.4,1589.6 1650.2,1578.0 1651.0,1580.7 1651.8,1573.5 1652.6,1573.9 1653.4,1575.0 1654.2,1580.2 1655.0,1585.0 1655.8,1567.4 1656.6,1587.5 1657.4,1574.7 1658.2,1575.4 1659.0,1586.9 1659.8,1581.9 1660.6,1572.3 1661.4,1594.5 1662.2,1576.6 1663.0,1583.9 1663.8,1583.5 1664.6,1591.5 1665.4,1579.2 1666.2,1588.8 1667.0,1577.2 1667.8,1589.4 1668.6,1577.0 1669.4,1579.6 1670.2,1594.4 1671.0,1584.0 1671.8,1582.6 1672.6,1596.6 1673.4,1584.2 1674.2,1576.5 1675.0,1586.6 1675.8,1574.0 1676.6,1589.1 1677.4,1589.5 1678.2,1577.9 1679.0,1577.5 1679.8,1582.7 1680.6,1581.5 1681.4,1575.0 1682.2,1585.1 1683.0,1568.0 1683.8,1578.4 1684.6,1578.5 1685.4,1579.3 1686.2,1583.1 1687.0,1573.0 1687.8,1584.8 1688.6,1579.7 1689.4,1576.6 1690.2,1571.9 1691.0,1573.0 1691.8,1583.0 1692.6,1574.4 1693.4,1581.0 1694.2,1587.5 1695.0,1587.2 1695.8,1590.6 1696.6,1578.4 1697.4,1573.3 1698.2,1586.9 1699.0,1582.2 1699.8,1587.5 1700.6,1580.2 1701.4,1587.8 1702.2,1585.5 1703.0,1584.6 1703.8,1583.2 1704.6,1582.4 1705.4,1581.3 1706.2,1581.2 1707.0,1586.1 1707.8,1576.3 1708.6,1590.9 1709.4,1578.8 1710.2,1585.9 1711.0,1578.8 1711.8,1577.7 1712.6,1592.6 1713.4,1577.2 1714.2,1570.8 1715.0,1574.4 1715.8,1577.0 1716.6,1593.2 1717.4,1580.3 1718.2,1585.1 1719.0,1572.2 1719.8,1581.1 1720.6,1583.2 1721.4,1590.6 1722.2,1574.0 1723.0,1582.6 1723.8,1580.5 1724.6,1571.7 1725.4,1578.3 1726.2,1576.6 1727.0,1563.0 1727.8,1582.3 1728.6,1581.8 1729.4,1575.2 1730.2,1569.2 1731.0,1587.9 1731.8,1579.8 1732.6,1584.7 1733.4,1587.3 1734.2,1574.4 1735.0,1583.2 1735.8,1576.1 1736.6,1577.3 1737.4,1577.0 1738.2,1577.6 1739.0,1585.0 1739.8,1578.3 1740.6,1576.4 1741.4,1575.5 1742.2,1579.6 1743.0,1571.2 1743.8,1573.8 1744.6,1576.8 1745.4,1573.3 1746.2,1576.2 1747.0,1572.8 1747.8,1590.5 1748.6,1585.9 1749.4,1579.9 1750.2,1576.4 1751.0,1591.6 1751.8,1578.8 1752.6,1576.0 1753.4,1578.6 1754.2,1578.6 1755.0,1586.0 1755.8,1576.3 1756.6,1590.6 1757.4,1570.3 1758.2,1581.0 1759.0,1569.3 1759.8,1588.5 1760.6,1573.8 1761.4,1575.6 1762.2,1582.3 1763.0,1584.5 1763.8,1568.2 1764.6,1573.4 1765.4,1566.2 1766.2,1576.6 1767.0,1575.0 1767.8,1573.2 1768.6,1570.8 1769.4,1572.8 1770.2,1570.3 1771.0,1579.0 1771.8,1585.8 1772.6,1561.9 1773.4,1574.4 1774.2,1572.3 1775.0,1578.5 1775.8,1568.5 1776.6,1574.0 1777.4,1567.8 1778.2,1579.7 1779.0,1575.5 1779.8,1573.7 1780.6,1577.3 1781.4,1573.0 1782.2,1563.8 1783.0,1578.7 1783.8,1576.5 1784.6,1573.4 1785.4,1581.3 1786.2,1582.9 1787.0,1566.7 1787.8,1568.8 1788.6,1585.0 1789.4,1584.1 1790.2,1568.9 1791.0,1565.8 1791.8,1569.5 1792.6,1570.5 1793.4,1562.8 1794.2,1574.1 1795.0,1564.8 1795.8,1565.2 1796.6,1580.1 1797.4,1568.8 1798.2,1573.1 1799.0,1578.0 1799.8,1579.2 1800.6,1571.0 1801.4,1573.7 1802.2,1567.5 1803.0,1585.6 1803.8,1577.8 1804.6,1565.3 1805.4,1573.1 1806.2,1578.1 1807.0,1576.4 1807.8,1585.9 1808.6,1582.6 1809.4,1569.0 1810.2,1572.1 1811.0,1563.6 1811.8,1574.5 1812.6,1573.7 1813.4,1589.0 1814.2,1573.2 1815.0,1557.5 1815.8,1567.6 1816.6,1573.2 1817.4,1563.3 1818.2,1566.1 1819.0,1569.6 1819.8,1574.7 1820.6,1571.0 1821.4,1565.7 1822.2,1577.8 1823.0,1568.2 1823.8,1568.4 1824.6,1562.0 1825.4,1566.3 1826.2,1576.6 1827.0,1560.2 1827.8,1571.3 1828.6,1577.0 1829.4,1569.0 1830.2,1573.4 1831.0,1563.6 1831.8,1581.1 1832.6,1579.5 1833.4,1573.2 1834.2,1558.8 1835.0,1563.9 1835.8,1578.5 1836.6,1583.8 1837.4,1573.5 1838.2,1580.3 1839.0,1566.9 1839.8,1569.9 1840.6,1571.2 1841.4,1574.2 1842.2,1560.0 1843.0,1577.9 1843.8,1580.6 1844.6,1562.7 1845.4,1561.1 1846.2,1573.5 1847.0,1566.1 1847.8,1554.1 1848.6,1576.7 1849.4,1571.9 1850.2,1567.2 1851.0,1586.1 1851.8,1571.6 1852.6,1565.1 1853.4,1571.3 1854.2,1562.9 1855.0,1564.9 1855.8,1573.3 1856.6,1566.4 1857.4,1567.1 1858.2,1582.5 1859.0,1576.6 1859.8,1576.1 1860.6,1574.1 1861.4,1573.7 1862.2,1580.8 1863.0,1569.9 1863.8,1583.6 1864.6,1563.0 1865.4,1568.1 1866.2,1559.8 1867.0,1567.4 1867.8,1573.6 1868.6,1580.5 1869.4,1564.9 1870.2,1569.8 1871.0,1567.1 1871.8,1564.2 1872.6,1560.9 1873.4,1570.0 1874.2,1556.8 1875.0,1570.3 1875.8,1569.6 1876.6,1564.6 1877.4,1561.9 1878.2,1559.1 1879.0,1583.1 1879.8,1559.4 1880.6,1580.7 1881.4,1573.6 1882.2,1566.5 1883.0,1560.6 1883.8,1576.8 1884.6,1581.8 1885.4,1562.1 1886.2,1566.8 1887.0,1576.7 1887.8,1571.4 1888.6,1583.7 1889.4,1564.7 1890.2,1572.9 1891.0,1559.6 1891.8,1584.4 1892.6,1563.5 1893.4,1552.5 1894.2,1567.9 1895.0,1567.8 1895.8,1583.0 1896.6,1566.3 1897.4,1568.7 1898.2,1573.2 1899.0,1580.5 1899.8,1568.3 1900.6,1576.4 1901.4,1572.6 1902.2,1566.5 1903.0,1569.3 1903.8,1568.9 1904.6,1561.8 1905.4,1577.7 1906.2,1558.3 1907.0,1577.3 1907.8,1575.7 1908.6,1567.9 1909.4,1562.9 1910.2,1566.9 1911.0,1572.1 1911.8,1574.1 1912.6,1570.6 1913.4,1575.9 1914.2,1564.3 1915.0,1570.2 1915.8,1556.7 1916.6,1574.1 1917.4,1569.6 1918.2,1565.3 1919.0,1577.1 1919.8,1573.6 1920.6,1551.1 1921.4,1568.6 1922.2,1557.4 1923.0,1576.3 1923.8,1585.6 1924.6,1564.4 1925.4,1568.8 1926.2,1566.4 1927.0,1570.9 1927.8,1573.1 1928.6,1577.9 1929.4,1560.8 1930.2,1580.0 1931.0,1561.2 1931.8,1570.2 1932.6,1576.9 1933.4,1573.5 1934.2,1561.0 1935.0,1562.8 1935.8,1564.6 1936.6,1567.7 1937.4,1576.7 1938.2,1558.3 1939.0,1571.6 1939.8,1572.6 1940.6,1572.2 1941.4,1571.5 1942.2,1579.5 1943.0,1571.7 1943.8,1574.4 1944.6,1572.2 1945.4,1581.5 1946.2,1553.5 1947.0,1577.6 1947.8,1565.9 1948.6,1565.7 1949.4,1560.5 1950.2,1553.7 1951.0,1565.0 1951.8,1562.6 1952.6,1571.6 1953.4,1556.7 1954.2,1578.8 1955.0,1570.0 1955.8,1566.1 1956.6,1562.6 1957.4,1562.1 1958.2,1559.5 1959.0,1564.0 1959.8,1568.2 1960.6,1566.9 1961.4,1557.5 1962.2,1566.3 1963.0,1561.5 1963.8,1569.6 1964.6,1582.7 1965.4,1573.2 1966.2,1566.1 1967.0,1556.1 1967.8,1557.8 1968.6,1555.7 1969.4,1574.2 1970.2,1562.9 1971.0,1569.2 1971.8,1564.0 1972.6,1569.5 1973.4,1579.6 1974.2,1563.7 1975.0,1566.3 1975.8,1562.8 1976.6,1575.7 1977.4,1561.2 1978.2,1560.4 1979.0,1558.5 1979.8,1558.4 1980.6,1572.8 1981.4,1586.9 1982.2,1561.7 1983.0,1576.7 1983.8,1571.3 1984.6,1561.0 1985.4,1567.3 1986.2,1567.7 1987.0,1564.2 1987.8,1584.5 1988.6,1554.9 1989.4,1572.6 1990.2,1572.3 1991.0,1565.3 1991.8,1570.9 1992.6,1576.6 1993.4,1571.0 1994.2,1573.1 1995.0,1575.3 1995.8,1554.3 1996.6,1581.5 1997.4,1587.7 1998.2,1577.7 1999.0,1578.0 1999.8,1559.3 2000.6,1569.3 2001.4,1564.0 2002.2,1565.8 2003.0,1577.8 2003.8,1564.2 2004.6,1569.4 2005.4,1555.7 2006.2,1569.3 2007.0,1571.2 2007.8,1565.1 2008.6,1565.0 2009.4,1585.3 2010.2,1561.3 2011.0,1562.6 2011.8,1564.5 2012.6,1580.2 2013.4,1587.2 2014.2,1573.5 2015.0,1565.4 2015.8,1567.7 2016.6,1579.3 2017.4,1564.0 2018.2,1582.4 2019.0,1582.2 2019.8,1571.7 2020.6,1576.3 2021.4,1577.1 2022.2,1583.4 2023.0,1563.2 2023.8,1580.6 2024.6,1568.5 2025.4,1565.5 2026.2,1572.3 2027.0,1569.9 2027.8,1563.9 2028.6,1559.2 2029.4,1564.4 2030.2,1583.0 2031.0,1587.0 2031.8,1576.8 2032.6,1581.0 2033.4,1567.9 2034.2,1571.3 2035.0,1574.1 2035.8,1563.6 2036.6,1564.4 2037.4,1572.8 2038.2,1569.6 2039.0,1564.0 2039.8,1575.2 2040.6,1570.2 2041.4,1580.2 2042.2,1572.3 2043.0,1570.1 2043.8,1573.4 2044.6,1571.1 2045.4,1567.3 2046.2,1569.4 2047.0,1578.3 2047.8,1577.6 2048.6,1582.5 2049.4,1559.7 2050.2,1569.7 2051.0,1569.6 2051.8,1574.1 2052.6,1569.4 2053.4,1569.0 2054.2,1578.9 2055.0,1574.3 2055.8,1564.1 2056.6,1583.3 2057.4,1580.7 2058.2,1568.8 2059.0,1579.5 2059.8,1567.6 2060.6,1581.8 2061.4,1571.6 2062.2,1567.2 2063.0,1570.5 2063.8,1567.6 2064.6,1574.9 2065.4,1574.8 2066.2,1573.8 2067.0,1569.4 2067.8,1556.2 2068.6,1574.4 2069.4,1559.3 2070.2,1575.6 2071.0,1582.4 2071.8,1575.9 2072.6,1570.9 2073.4,1572.5 2074.2,1572.9 2075.0,1569.8 2075.8,1569.6 2076.6,1567.1 2077.4,1583.1 2078.2,1574.0 2079.0,1581.4 2079.8,1572.3 2080.6,1574.8 2081.4,1573.0 2082.2,1577.8 2083.0,1580.6 2083.8,1576.2 2084.6,1569.4 2085.4,1568.7 2086.2,1587.0 2087.0,1572.5 2087.8,1572.5 2088.6,1585.7 2089.4,1582.9 2090.2,1578.8 2091.0,1571.9 2091.8,1592.1 2092.6,1577.9 2093.4,1579.1 2094.2,1573.8 2095.0,1564.6 2095.8,1565.3 2096.6,1578.4 2097.4,1578.4 2098.2,1573.7 2099.0,1566.9 2099.8,1564.9 2100.6,1573.3 2101.4,1565.0 2102.2,1582.6 2103.0,1584.6 2103.8,1593.2 2104.6,1582.7 2105.4,1571.8 2106.2,1569.8 2107.0,1559.3 2107.8,1572.1 2108.6,1575.2 2109.4,1583.8 2110.2,1581.3 2111.0,1581.2 2111.8,1578.5 2112.6,1581.9 2113.4,1587.8 2114.2,1569.2 2115.0,1573.8 2115.8,1567.0 2116.6,1589.3 2117.4,1587.0 2118.2,1583.1 2119.0,1568.8 2119.8,1579.0 2120.6,1576.0 2121.4,1578.4 2122.2,1576.5 2123.0,1581.8 2123.8,1575.2 2124.6,1584.4 2125.4,1580.0 2126.2,1576.2 2127.0,1577.6 2127.8,1575.2 2128.6,1584.5 2129.4,1576.6 2130.2,1580.9 2131.0,1575.9 2131.8,1568.0 2132.6,1585.6 2133.4,1571.3 2134.2,1584.1 2135.0,1582.3 2135.8,1567.2 2136.6,1572.5 2137.4,1575.7 2138.2,1573.5 2139.0,1571.0 2139.8,1585.1 2140.6,1578.0 2141.4,1582.6 2142.2,1576.8 2143.0,1582.2 2143.8,1574.6 2144.6,1580.0 2145.4,1584.5 2146.2,1580.6 2147.0,1577.1 2147.8,1572.6 2148.6,1581.8 2149.4,1583.1 2150.2,1578.8 2151.0,1575.2 2151.8,1584.8 2152.6,1597.6 2153.4,1578.9 2154.2,1583.6 2155.0,1583.9 2155.8,1564.7 2156.6,1582.3 2157.4,1576.3 2158.2,1591.5 2159.0,1579.7 2159.8,1576.0 2160.6,1580.1 2161.4,1582.9 2162.2,1577.8 2163.0,1581.5 2163.8,1572.1 2164.6,1580.3 2165.4,1587.5 2166.2,1596.1 2167.0,1587.1 2167.8,1584.0 2168.6,1590.6 2169.4,1589.5 2170.2,1594.1 2171.0,1590.0 2171.8,1581.4 2172.6,1584.1 2173.4,1583.6 2174.2,1584.5 2175.0,1583.8 2175.8,1576.8 2176.6,1567.4 2177.4,1577.7 2178.2,1568.1 2179.0,1583.1 2179.8,1582.7 2180.6,1570.7 2181.4,1587.6 2182.2,1588.9 2183.0,1583.5 2183.8,1594.7 2184.6,1596.2 2185.4,1574.3 2186.2,1590.3 2187.0,1586.1 2187.8,1586.0 2188.6,1589.7 2189.4,1578.0 2190.2,1578.9 2191.0,1577.3 2191.8,1577.8 2192.6,1582.5 2193.4,1572.9 2194.2,1575.9 2195.0,1587.5 2195.8,1582.9 2196.6,1586.2 2197.4,1570.0 2198.2,1577.9 2199.0,1579.6 2199.8,1583.8 2200.6,1579.4 2201.4,1590.3 2202.2,1583.3 2203.0,1583.8 2203.8,1583.9 2204.6,1588.8 2205.4,1580.5 2206.2,1591.8 2207.0,1587.2 2207.8,1585.0 2208.6,1584.3 2209.4,1587.7 2210.2,1591.3 2211.0,1590.8 2211.8,1586.8 2212.6,1590.4 2213.4,1585.1 2214.2,1593.1 2215.0,1584.1 2215.8,1569.6 2216.6,1593.8 2217.4,1585.2 2218.2,1576.2 2219.0,1583.1 2219.8,1578.3 2220.6,1599.4 2221.4,1588.1 2222.2,1573.6 2223.0,1588.5 2223.8,1581.9 2224.6,1598.3 2225.4,1577.4 2226.2,1569.0 2227.0,1585.3 2227.8,1582.4 2228.6,1582.0 2229.4,1569.9 2230.2,1588.0 2231.0,1596.8 2231.8,1571.6 2232.6,1593.3 2233.4,1581.1 2234.2,1601.3 2235.0,1588.2 2235.8,1583.9 2236.6,1593.0 2237.4,1589.0 2238.2,1581.1 2239.0,1590.3 2239.8,1581.8 2240.6,1572.8 2241.4,1599.7 2242.2,1583.0 2243.0,1581.2 2243.8,1587.9 2244.6,1574.6 2245.4,1576.0 2246.2,1582.1 2247.0,1581.9 2247.8,1586.1 2248.6,1593.5 2249.4,1582.4 2250.2,1589.2 2251.0,1589.9 2251.8,1578.2 2252.6,1587.4 2253.4,1579.2 2254.2,1593.3 2255.0,1589.1 2255.8,1586.0 2256.6,1576.6 2257.4,1586.8 2258.2,1580.6 2259.0,1590.9 2259.8,1585.2 2260.6,1580.4 2261.4,1592.5 2262.2,1591.2 2263.0,1582.0 2263.8,1594.3 2264.6,1584.1 2265.4,1584.1 2266.2,1587.1 2267.0,1581.0 2267.8,1583.2 2268.6,1585.2 2269.4,1597.0 2270.2,1596.8 2271.0,1584.6 2271.8,1597.7 2272.6,1586.2 2273.4,1589.2 2274.2,1592.7 2275.0,1588.6 2275.8,1602.6 2276.6,1588.3 2277.4,1578.3 2278.2,1595.7 2279.0,1583.8 2279.8,1584.6 2280.6,1570.8 2281.4,1593.7 2282.2,1592.5 2283.0,1592.4 2283.8,1593.6 2284.6,1598.6 2285.4,1586.6 2286.2,1593.4 2287.0,1581.8 2287.8,1584.6 2288.6,1594.3 2289.4,1589.8 2290.2,1577.9 2291.0,1589.6 2291.8,1585.9 2292.6,1581.5 2293.4,1590.2 2294.2,1584.4 2295.0,1576.4 2295.8,1579.6 2296.6,1599.5 2297.4,1576.9 2298.2,1588.9 2299.0,1591.6 2299.8,1591.8 2300.6,1579.0 2301.4,1585.3 2302.2,1588.5 2303.0,1593.0 2303.8,1583.1 2304.6,1579.5 2305.4,1594.5 2306.2,1595.2 2307.0,1590.2 2307.8,1583.5 2308.6,1590.5 2309.4,1588.4 2310.2,1593.5 2311.0,1579.2 2311.8,1588.6 2312.6,1586.7 2313.4,1580.2 2314.2,1589.3 2315.0,1588.1 2315.8,1585.1 2316.6,1590.6 2317.4,1578.2 2318.2,1587.6 2319.0,1590.9 2319.8,1589.9 2320.6,1595.4 2321.4,1579.8 2322.2,1577.7 2323.0,1589.7 2323.8,1591.2 2324.6,1602.6 2325.4,1592.4 2326.2,1582.2 2327.0,1593.7 2327.8,1582.4 2328.6,1578.1 2329.4,1604.0 2330.2,1590.5 2331.0,1593.2 2331.8,1592.2 2332.6,1600.7 2333.4,1590.3 2334.2,1596.7 2335.0,1581.4 2335.8,1578.9 2336.6,1598.2 2337.4,1598.5 2338.2,1592.0 2339.0,1590.1 2339.8,1589.7 2340.6,1583.9 2341.4,1599.0"/>
<polyline fill="none" stroke="#ff0000" stroke-width="12.5" stroke-linejoin="round" stroke-linecap="butt" points="219.0,1366.2 222.9,1320.3 226.8,1302.0 230.7,1312.1 234.6,1318.4 238.5,1317.5 242.4,1322.0 246.3,1311.6 250.2,1333.1 254.1,1322.0 258.0,1312.7 261.9,1321.2 265.8,1328.2 269.7,1345.3 273.6,1342.5 277.5,1332.2 281.4,1335.7 285.3,1337.2 289.2,1359.0 293.1,1324.9 297.0,1337.5 300.9,1339.8 304.8,1317.8 308.7,1331.2 312.6,1329.8 316.5,1320.5 320.4,1332.0 324.3,1336.3 328.2,1336.2 332.1,1318.2 336.0,1321.6 339.9,1347.1 343.8,1302.5 347.7,1317.7 351.6,1324.6 355.5,1313.9 359.4,1318.8 363.3,1311.9 367.2,1318.8 371.1,1325.0 375.0,1305.8 378.9,1310.6 382.8,1307.1 386.7,1302.3 390.6,1306.7 394.5,1292.4 398.4,1315.5 402.3,1327.0 406.2,1326.7 410.1,1321.1 414.0,1294.9 417.9,1327.8 421.8,1301.7 425.7,1311.8 429.6,1337.3 433.5,1302.7 437.4,1328.4 441.3,1323.2 445.2,1319.6 449.1,1312.4 453.0,1330.4 456.9,1320.7 460.8,1340.5 464.7,1343.6 468.6,1312.0 472.5,1323.9 476.4,1327.1 480.3,1317.2 484.2,1318.9 488.1,1334.9 492.0,1332.2 495.9,1315.0 499.8,1329.9 503.7,1344.0 507.6,1323.4 511.5,1327.8 515.4,1360.1 519.3,1357.0 523.2,1317.9 527.1,1318.9 531.0,1338.2 534.9,1316.2 538.8,1325.6 542.7,1320.7 546.6,1330.9 550.5,1289.7 554.4,1291.1 558.3,1300.7 562.2,1326.1 566.1,1308.9 570.0,1286.8 573.9,1311.7 577.8,1313.0 581.7,1300.1 585.6,1298.0 589.5,1306.5 593.4,1315.1 597.3,1300.9 601.2,1304.6 605.1,1296.3 609.0,1291.1 612.9,1283.4 616.8,1297.0 620.7,1289.0 624.6,1288.6 628.5,1302.3 632.4,1295.7 636.3,1299.4 640.2,1267.8 644.1,1293.4 648.0,1278.0 651.9,1274.3 655.8,1272.7 659.7,1289.6 663.6,1272.3 667.5,1240.6 671.4,1234.1 675.3,1248.8 679.2,1243.3 683.1,1270.1 687.0,1231.5 690.9,1226.6 694.8,1244.0 698.7,1245.1 702.6,1244.4 706.5,1249.9 710.4,1264.1 714.3,1231.6 718.2,1226.8 722.1,1209.4 726.0,1233.1 729.9,1241.0 733.8,1227.2 737.7,1245.5 741.6,1231.3 745.5,1250.1 749.4,1235.5 753.3,1218.3 757.2,1223.8 761.1,1212.8 765.0,1211.5 768.9,1238.1 772.8,1247.2 776.7,1262.3 780.6,1238.8 784.5,1238.0 788.4,1228.7 792.3,1256.5 796.2,1250.5 800.1,1240.0 804.0,1258.8 807.9,1260.0 811.8,1232.3 815.7,1267.7 819.6,1262.9 823.5,1259.1 827.4,1261.5 831.3,1291.3 835.2,1291.4 839.1,1299.3 843.0,1267.6 846.9,1279.2 850.8,1304.2 854.7,1283.3 858.6,1294.9 862.5,1284.0 866.4,1331.7 870.3,1323.8 874.2,1318.2 878.1,1317.2 882.0,1311.2 885.9,1313.4 889.8,1328.1 893.7,1313.6 897.6,1340.8 901.5,1322.2 905.4,1320.4 909.3,1350.2 913.2,1335.3 917.1,1346.7 921.0,1337.8 924.9,1318.5 928.8,1355.3 932.7,1334.8 936.6,1365.7 940.5,1336.1 944.4,1334.2 948.3,1361.7 952.2,1364.8 956.1,1362.8 960.0,1349.3 963.9,1375.4 967.8,1350.1 971.7,1362.2 975.6,1359.1 979.5,1364.3 983.4,1378.7 987.3,1362.6 991.2,1376.5 995.1,1378.5 999.0,1352.5 1002.9,1359.1 1006.8,1368.2 1010.7,1366.5 1014.6,1376.8 1018.5,1353.2 1022.4,1382.3 1026.3,1383.1 1030.2,1373.9 1034.1,1361.5 1038.0,1376.8 1041.9,1371.6 1045.8,1383.7 1049.7,1377.5 1053.6,1386.6 1057.5,1375.2 1061.4,1395.2 1065.3,1357.5 1069.2,1371.4 1073.1,1387.4 1077.0,1367.9 1080.9,1391.2 1084.8,1372.3 1088.7,1386.1 1092.6,1376.8 1096.5,1382.2 1100.4,1388.9 1104.3,1386.9 1108.2,1384.9 1112.1,1410.1 1116.0,1390.0 1119.9,1381.3 1123.8,1400.2 1127.7,1398.7 1131.6,1401.7 1135.5,1406.2 1139.4,1379.8 1143.3,1397.7 1147.2,1397.6 1151.1,1386.2 1155.0,1387.7 1158.9,1357.2 1162.8,1378.9 1166.7,1400.9 1170.6,1369.2 1174.5,1381.1 1178.4,1389.0 1182.3,1392.2 1186.2,1402.1 1190.1,1372.8 1194.0,1389.2 1197.9,1396.9 1201.8,1378.6 1205.7,1390.1 1209.6,1407.1 1213.5,1402.6 1217.4,1396.5 1221.3,1370.4 1225.2,1391.8 1229.1,1396.6 1233.0,1391.3 1236.9,1393.8 1240.8,1420.1 1244.7,1393.5 1248.6,1387.9 1252.5,1398.2 1256.4,1394.2 1260.3,1394.7 1264.2,1397.0 1268.1,1404.3 1272.0,1400.5 1275.9,1389.4 1279.8,1396.9 1283.7,1400.7 1287.6,1392.7 1291.5,1404.1 1295.4,1400.4 1299.3,1386.3 1303.2,1395.3 1307.1,1406.9 1311.0,1402.9 1314.9,1391.2 1318.8,1399.2 1322.7,1388.2 1326.6,1383.3 1330.5,1399.1 1334.4,1397.6 1338.3,1400.4 1342.2,1397.2 1346.1,1400.7 1350.0,1395.2 1353.9,1403.1 1357.8,1406.2 1361.7,1400.1 1365.6,1407.1 1369.5,1388.3 1373.4,1396.1 1377.3,1413.2 1381.2,1416.0 1385.1,1405.3 1389.0,1403.2 1392.9,1395.0 1396.8,1407.6 1400.7,1411.2 1404.6,1394.9 1408.5,1410.5 1412.4,1410.5 1416.3,1410.6 1420.2,1399.5 1424.1,1412.3 1428.0,1397.3 1431.9,1419.2 1435.8,1409.1 1439.7,1399.4 1443.6,1417.8 1447.5,1416.3 1451.4,1402.9 1455.3,1423.8 1459.2,1400.1 1463.1,1409.7 1467.0,1416.0 1470.9,1390.6 1474.8,1414.5 1478.7,1406.6 1482.6,1406.8 1486.5,1398.9 1490.4,1409.2 1494.3,1398.5 1498.2,1399.5 1502.1,1403.4 1506.0,1398.0 1509.9,1418.7 1513.8,1397.9 1517.7,1402.3 1521.6,1405.8 1525.5,1408.4 1529.4,1414.5 1533.3,1414.9 1537.2,1407.1 1541.1,1406.8 1545.0,1410.1 1548.9,1416.1 1552.8,1415.5 1556.7,1407.0 1560.6,1396.1 1564.5,1426.8 1568.4,1418.5 1572.3,1413.8 1576.2,1414.4 1580.1,1408.1 1584.0,1404.5 1587.9,1409.2 1591.8,1409.9 1595.7,1406.9 1599.6,1400.8 1603.5,1409.0 1607.4,1415.3 1611.3,1407.5 1615.2,1411.1 1619.1,1395.9 1623.0,1409.2 1626.9,1409.7 1630.8,1401.7 1634.7,1398.0 1638.6,1413.2 1642.5,1404.4 1646.4,1413.6 1650.3,1406.9 1654.2,1414.0 1658.1,1406.8 1662.0,1398.1 1665.9,1408.0 1669.8,1405.9 1673.7,1412.6 1677.6,1404.4 1681.5,1404.4 1685.4,1413.0 1689.3,1414.9 1693.2,1411.7 1697.1,1413.3 1701.0,1408.8 1704.9,1410.7 1708.8,1411.2 1712.7,1407.4 1716.6,1404.6 1720.5,1404.8 1724.4,1420.5 1728.3,1403.1 1732.2,1400.9 1736.1,1399.7 1740.0,1401.6 1743.9,1403.2 1747.8,1393.1 1751.7,1386.7 1755.6,1402.4 1759.5,1388.6 1763.4,1401.3 1767.3,1400.1 1771.2,1406.9 1775.1,1410.1 1779.0,1400.6 1782.9,1393.7 1786.8,1388.9 1790.7,1391.2 1794.6,1396.7 1798.5,1381.5 1802.4,1396.2 1806.3,1395.2 1810.2,1399.4 1814.1,1392.1 1818.0,1394.8 1821.9,1388.5 1825.8,1390.1 1829.7,1380.8 1833.6,1394.0 1837.5,1403.8 1841.4,1394.0 1845.3,1395.3 1849.2,1385.8 1853.1,1402.4 1857.0,1387.0 1860.9,1397.8 1864.8,1392.8 1868.7,1385.3 1872.6,1399.0 1876.5,1391.8 1880.4,1392.8 1884.3,1394.6 1888.2,1391.2 1892.1,1388.6 1896.0,1394.3 1899.9,1388.1 1903.8,1391.3 1907.7,1386.1 1911.6,1380.2 1915.5,1385.8 1919.4,1386.9 1923.3,1390.3 1927.2,1398.2 1931.1,1378.3 1935.0,1390.7 1938.9,1374.5 1942.8,1382.6 1946.7,1386.4 1950.6,1374.5 1954.5,1377.4 1958.4,1391.3 1962.3,1390.8 1966.2,1389.6 1970.1,1385.0 1974.0,1405.3 1977.9,1389.6 1981.8,1384.9 1985.7,1402.4 1989.6,1395.2 1993.5,1388.5 1997.4,1399.3 2001.3,1392.3 2005.2,1395.7 2009.1,1393.0 2013.0,1384.6 2016.9,1398.5 2020.8,1393.2 2024.7,1385.6 2028.6,1387.5 2032.5,1399.5 2036.4,1390.8 2040.3,1393.9 2044.2,1398.3 2048.1,1395.0 2052.0,1384.1 2055.9,1399.0 2059.8,1401.4 2063.7,1401.2 2067.6,1406.5 2071.5,1398.3 2075.4,1401.4 2079.3,1407.2 2083.2,1394.8 2087.1,1408.7 2091.0,1408.8 2094.9,1402.6 2098.8,1409.8 2102.7,1403.3 2106.6,1391.8 2110.5,1405.5 2114.4,1400.2 2118.3,1400.9 2122.2,1399.3 2126.1,1407.5 2130.0,1402.2 2133.9,1394.0 2137.8,1402.1 2141.7,1403.8 2145.6,1394.2 2149.5,1396.3 2153.4,1396.8 2157.3,1395.4 2161.2,1402.0 2165.1,1406.6 2169.0,1412.5 2172.9,1408.0 2176.8,1407.0 2180.7,1407.9 2184.6,1409.4 2188.5,1398.1 2192.4,1405.4 2196.3,1403.0 2200.2,1400.2 2204.1,1398.3 2208.0,1398.3 2211.9,1400.1 2215.8,1394.0 2219.7,1405.9 2223.6,1402.6 2227.5,1403.8 2231.4,1405.6 2235.3,1408.4 2239.2,1400.0 2243.1,1403.5 2247.0,1393.9 2250.9,1390.2 2254.8,1392.3 2258.7,1415.5 2262.6,1393.6 2266.5,1409.0 2270.4,1415.9 2274.3,1403.5 2278.2,1417.7 2282.1,1419.5 2286.0,1414.1 2289.9,1423.9 2293.8,1412.9 2297.7,1404.5 2301.6,1413.1 2305.5,1407.2 2309.4,1402.1 2313.3,1402.7 2317.2,1426.6 2321.1,1408.4 2325.0,1412.2 2328.9,1408.5 2332.8,1412.0 2336.7,1406.2 2340.6,1401.6"/>
<polyline fill="none" stroke="#0000ff" stroke-width="13.5" stroke-linejoin="round" stroke-linecap="butt" points="219.0,1195.7 222.5,1194.6 226.1,1198.3 229.6,1204.1 233.2,1213.9 236.7,1208.3 240.2,1212.6 243.8,1205.3 247.3,1202.1 250.9,1195.4 254.4,1202.7 257.9,1191.0 261.5,1201.1 265.0,1211.7 268.6,1204.6 272.1,1209.1 275.6,1200.8 279.2,1195.4 282.7,1200.3 286.3,1200.8 289.8,1209.6 293.3,1213.9 296.9,1199.0 300.4,1201.1 304.0,1202.2 307.5,1201.1 311.0,1196.1 314.6,1203.3 318.1,1204.8 321.7,1204.8 325.2,1196.0 328.7,1201.9 332.3,1193.0 335.8,1207.4 339.4,1196.8 342.9,1200.8 346.4,1199.8 350.0,1199.0 353.5,1196.3 357.1,1192.4 360.6,1211.4 364.1,1203.3 367.7,1203.3 371.2,1213.2 374.8,1201.1 378.3,1204.6 381.8,1201.6 385.4,1207.9 388.9,1204.1 392.5,1203.0 396.0,1199.9 399.5,1202.7 403.1,1207.6 406.6,1190.0 410.2,1200.8 413.7,1199.3 417.2,1200.0 420.8,1191.0 424.3,1205.9 427.9,1197.4 431.4,1200.8 434.9,1199.4 438.5,1193.2 442.0,1199.9 445.6,1192.5 449.1,1197.5 452.6,1201.0 456.2,1202.8 459.7,1203.2 463.3,1202.2 466.8,1214.7 470.3,1205.6 473.9,1197.4 477.4,1201.5 481.0,1202.1 484.5,1205.5 488.0,1204.0 491.6,1203.4 495.1,1217.8 498.7,1209.9 502.2,1207.8 505.7,1207.7 509.3,1207.3 512.8,1215.5 516.4,1210.0 519.9,1212.9 523.4,1189.3 527.0,1207.4 530.5,1210.7 534.1,1213.9 537.6,1201.7 541.1,1190.6 544.7,1201.4 548.2,1193.2 551.8,1185.1 555.3,1189.7 558.8,1197.1 562.4,1196.2 565.9,1191.9 569.5,1180.6 573.0,1198.2 576.5,1176.5 580.1,1180.7 583.6,1171.5 587.2,1184.7 590.7,1178.2 594.2,1178.8 597.8,1172.7 601.3,1170.1 604.9,1169.6 608.4,1156.7 611.9,1170.5 615.5,1168.3 619.0,1159.5 622.6,1159.7 626.1,1159.6 629.6,1164.7 633.2,1156.8 636.7,1152.9 640.3,1148.2 643.8,1141.0 647.3,1144.1 650.9,1145.8 654.4,1141.8 658.0,1141.2 661.5,1142.5 665.0,1138.6 668.6,1135.4 672.1,1135.2 675.7,1130.4 679.2,1126.9 682.7,1127.3 686.3,1113.2 689.8,1124.6 693.4,1105.6 696.9,1111.8 700.4,1102.0 704.0,1102.6 707.5,1090.8 711.1,1078.6 714.6,1082.5 718.1,1070.8 721.7,1063.5 725.2,1055.7 728.8,1054.5 732.3,1053.0 735.8,1049.3 739.4,1039.2 742.9,1045.4 746.5,1048.8 750.0,1058.4 753.5,1052.7 757.1,1058.8 760.6,1074.3 764.2,1075.0 767.7,1082.6 771.2,1090.8 774.8,1089.0 778.3,1109.3 781.9,1112.8 785.4,1113.8 788.9,1114.0 792.5,1126.0 796.0,1137.1 799.6,1130.9 803.1,1131.2 806.6,1141.7 810.2,1133.4 813.7,1132.6 817.3,1144.5 820.8,1145.6 824.3,1150.2 827.9,1151.2 831.4,1158.3 835.0,1157.7 838.5,1157.9 842.0,1160.5 845.6,1168.2 849.1,1171.7 852.7,1173.3 856.2,1174.0 859.7,1154.6 863.3,1169.0 866.8,1174.9 870.4,1179.9 873.9,1172.4 877.4,1190.0 881.0,1185.4 884.5,1181.7 888.1,1187.2 891.6,1185.8 895.1,1184.9 898.7,1192.9 902.2,1189.1 905.8,1185.3 909.3,1190.8 912.8,1194.8 916.4,1190.7 919.9,1204.2 923.5,1192.8 927.0,1209.0 930.5,1205.5 934.1,1196.8 937.6,1203.5 941.2,1210.2 944.7,1203.9 948.2,1199.7 951.8,1207.7 955.3,1218.7 958.9,1201.3 962.4,1213.2 965.9,1211.3 969.5,1211.7 973.0,1211.3 976.6,1212.6 980.1,1220.5 983.6,1218.8 987.2,1211.1 990.7,1225.3 994.3,1210.9 997.8,1222.0 1001.3,1220.2 1004.9,1226.2 1008.4,1222.5 1012.0,1226.8 1015.5,1221.9 1019.0,1227.8 1022.6,1225.2 1026.1,1235.3 1029.7,1221.2 1033.2,1231.7 1036.7,1228.6 1040.3,1227.8 1043.8,1224.7 1047.4,1230.6 1050.9,1221.5 1054.4,1222.5 1058.0,1233.5 1061.5,1222.5 1065.1,1238.0 1068.6,1229.9 1072.1,1232.9 1075.7,1232.5 1079.2,1234.7 1082.8,1231.6 1086.3,1231.7 1089.8,1233.3 1093.4,1239.5 1096.9,1240.4 1100.5,1241.5 1104.0,1237.5 1107.5,1235.2 1111.1,1228.5 1114.6,1240.2 1118.2,1241.5 1121.7,1236.0 1125.2,1242.2 1128.8,1244.4 1132.3,1238.6 1135.9,1243.0 1139.4,1239.4 1142.9,1229.8 1146.5,1235.6 1150.0,1235.8 1153.6,1240.0 1157.1,1233.5 1160.6,1235.4 1164.2,1232.9 1167.7,1237.0 1171.3,1237.4 1174.8,1241.4 1178.3,1240.5 1181.9,1237.6 1185.4,1237.8 1189.0,1237.1 1192.5,1237.0 1196.0,1243.3 1199.6,1225.3 1203.1,1235.7 1206.7,1238.1 1210.2,1241.8 1213.7,1232.2 1217.3,1238.7 1220.8,1241.1 1224.4,1235.6 1227.9,1229.5 1231.4,1236.4 1235.0,1233.0 1238.5,1241.1 1242.1,1234.9 1245.6,1246.2 1249.1,1239.4 1252.7,1235.6 1256.2,1237.1 1259.8,1234.8 1263.3,1241.2 1266.8,1245.9 1270.4,1239.0 1273.9,1243.9 1277.5,1236.0 1281.0,1240.9 1284.5,1248.7 1288.1,1233.4 1291.6,1243.8 1295.2,1243.2 1298.7,1230.7 1302.2,1232.2 1305.8,1233.8 1309.3,1241.3 1312.9,1235.4 1316.4,1236.2 1319.9,1239.4 1323.5,1236.8 1327.0,1237.0 1330.6,1234.5 1334.1,1240.0 1337.6,1232.1 1341.2,1241.6 1344.7,1233.3 1348.3,1231.2 1351.8,1237.0 1355.3,1236.5 1358.9,1227.2 1362.4,1236.2 1366.0,1230.2 1369.5,1232.6 1373.0,1239.2 1376.6,1233.0 1380.1,1238.1 1383.7,1235.4 1387.2,1244.8 1390.7,1237.1 1394.3,1233.1 1397.8,1233.7 1401.4,1234.7 1404.9,1239.1 1408.4,1238.8 1412.0,1242.9 1415.5,1240.0 1419.1,1240.2 1422.6,1241.2 1426.1,1239.4 1429.7,1240.7 1433.2,1242.2 1436.8,1241.9 1440.3,1236.3 1443.8,1231.1 1447.4,1234.5 1450.9,1238.4 1454.5,1227.2 1458.0,1234.7 1461.5,1238.0 1465.1,1233.7 1468.6,1231.1 1472.2,1242.0 1475.7,1240.2 1479.2,1233.4 1482.8,1239.9 1486.3,1240.8 1489.9,1232.3 1493.4,1248.0 1496.9,1234.9 1500.5,1238.5 1504.0,1236.2 1507.6,1241.7 1511.1,1237.2 1514.6,1243.2 1518.2,1248.4 1521.7,1246.0 1525.3,1245.1 1528.8,1253.0 1532.3,1244.5 1535.9,1252.7 1539.4,1247.9 1543.0,1249.8 1546.5,1248.9 1550.0,1249.1 1553.6,1248.2 1557.1,1245.2 1560.7,1245.9 1564.2,1249.6 1567.7,1247.3 1571.3,1243.1 1574.8,1244.7 1578.4,1244.5 1581.9,1246.8 1585.4,1247.5 1589.0,1247.0 1592.5,1244.0 1596.1,1246.4 1599.6,1240.9 1603.1,1235.0 1606.7,1245.6 1610.2,1239.3 1613.8,1241.9 1617.3,1240.8 1620.8,1247.7 1624.4,1240.6 1627.9,1246.2 1631.5,1243.2 1635.0,1240.2 1638.5,1238.9 1642.1,1246.5 1645.6,1246.1 1649.2,1247.5 1652.7,1251.4 1656.2,1245.4 1659.8,1245.3 1663.3,1243.7 1666.9,1244.5 1670.4,1242.7 1673.9,1240.5 1677.5,1251.4 1681.0,1236.7 1684.6,1244.6 1688.1,1245.2 1691.6,1243.9 1695.2,1239.5 1698.7,1242.2 1702.3,1241.0 1705.8,1238.5 1709.3,1242.1 1712.9,1240.6 1716.4,1239.8 1720.0,1244.3 1723.5,1237.5 1727.0,1243.0 1730.6,1238.8 1734.1,1242.5 1737.7,1241.0 1741.2,1241.4 1744.7,1236.7 1748.3,1237.2 1751.8,1236.7 1755.4,1240.4 1758.9,1242.3 1762.4,1243.4 1766.0,1237.3 1769.5,1239.3 1773.1,1232.7 1776.6,1230.3 1780.1,1235.1 1783.7,1235.7 1787.2,1232.2 1790.8,1231.2 1794.3,1239.6 1797.8,1234.5 1801.4,1231.2 1804.9,1245.8 1808.5,1237.7 1812.0,1235.8 1815.5,1239.3 1819.1,1233.8 1822.6,1242.4 1826.2,1230.7 1829.7,1231.4 1833.2,1235.6 1836.8,1233.1 1840.3,1241.0 1843.9,1229.7 1847.4,1232.8 1850.9,1236.2 1854.5,1237.2 1858.0,1238.7 1861.6,1236.1 1865.1,1242.8 1868.6,1232.9 1872.2,1235.1 1875.7,1237.4 1879.3,1233.0 1882.8,1232.9 1886.3,1232.2 1889.9,1231.4 1893.4,1229.4 1897.0,1231.4 1900.5,1227.6 1904.0,1234.5 1907.6,1227.2 1911.1,1240.3 1914.7,1238.9 1918.2,1236.6 1921.7,1231.6 1925.3,1230.1 1928.8,1236.5 1932.4,1232.6 1935.9,1233.8 1939.4,1229.1 1943.0,1235.4 1946.5,1228.5 1950.1,1231.6 1953.6,1224.8 1957.1,1228.6 1960.7,1232.6 1964.2,1229.0 1967.8,1228.9 1971.3,1233.2 1974.8,1230.0 1978.4,1234.7 1981.9,1221.5 1985.5,1232.2 1989.0,1231.9 1992.5,1224.6 1996.1,1225.4 1999.6,1233.2 2003.2,1226.2 2006.7,1227.7 2010.2,1232.1 2013.8,1228.7 2017.3,1231.6 2020.9,1226.8 2024.4,1230.9 2027.9,1233.7 2031.5,1230.8 2035.0,1221.5 2038.6,1231.3 2042.1,1228.8 2045.6,1225.1 2049.2,1232.9 2052.7,1221.4 2056.3,1233.9 2059.8,1224.7 2063.3,1232.1 2066.9,1226.1 2070.4,1221.2 2074.0,1225.9 2077.5,1226.3 2081.0,1226.7 2084.6,1228.7 2088.1,1222.7 2091.7,1228.4 2095.2,1230.2 2098.7,1227.5 2102.3,1226.1 2105.8,1226.9 2109.4,1233.8 2112.9,1234.9 2116.4,1230.0 2120.0,1229.1 2123.5,1239.1 2127.1,1230.2 2130.6,1237.1 2134.1,1234.6 2137.7,1232.1 2141.2,1239.6 2144.8,1239.3 2148.3,1245.7 2151.8,1249.3 2155.4,1241.4 2158.9,1246.3 2162.5,1247.1 2166.0,1242.3 2169.5,1241.8 2173.1,1251.2 2176.6,1245.0 2180.2,1246.9 2183.7,1246.7 2187.2,1247.9 2190.8,1247.0 2194.3,1252.4 2197.9,1254.8 2201.4,1249.6 2204.9,1246.2 2208.5,1251.3 2212.0,1246.2 2215.6,1249.2 2219.1,1255.8 2222.6,1259.7 2226.2,1253.2 2229.7,1248.3 2233.3,1254.8 2236.8,1244.6 2240.3,1250.1 2243.9,1257.8 2247.4,1255.3 2251.0,1248.1 2254.5,1247.3 2258.0,1256.1 2261.6,1253.1 2265.1,1251.4 2268.7,1255.0 2272.2,1251.8 2275.7,1247.2 2279.3,1256.6 2282.8,1251.7 2286.4,1250.5 2289.9,1249.4 2293.4,1254.9 2297.0,1251.3 2300.5,1256.2 2304.1,1253.3 2307.6,1257.9 2311.1,1252.9 2314.7,1252.1 2318.2,1247.6 2321.8,1250.6 2325.3,1256.9 2328.8,1264.8 2332.4,1250.3 2335.9,1251.0 2339.5,1255.7"/>
<polyline fill="none" stroke="#008585" stroke-width="11" stroke-linejoin="round" stroke-linecap="butt" points="219.0,1080.9 220.0,1080.3 221.0,1080.0 222.0,1079.6 223.0,1079.4 224.0,1080.7 225.0,1081.7 226.0,1081.1 227.0,1080.1 228.0,1080.4 229.0,1081.1 230.0,1081.1 231.0,1080.2 232.0,1080.1 233.0,1081.0 234.0,1080.4 235.0,1079.2 236.0,1079.8 237.0,1080.7 238.0,1081.0 239.0,1080.8 240.0,1080.0 241.0,1079.7 242.0,1079.5 243.0,1079.2 244.0,1079.4 245.0,1079.7 246.0,1080.5 247.0,1080.1 248.0,1079.5 249.0,1079.9 250.0,1080.7 251.0,1081.1 252.0,1080.1 253.0,1080.4 254.0,1080.6 255.0,1079.9 256.0,1080.7 257.0,1081.3 258.0,1081.4 259.0,1081.6 260.0,1081.1 261.0,1080.6 262.0,1079.6 263.0,1079.9 264.0,1080.5 265.0,1080.5 266.0,1080.4 267.0,1079.7 268.0,1079.2 269.0,1079.9 270.0,1081.1 271.0,1080.6 272.0,1080.1 273.0,1081.0 274.0,1080.3 275.0,1079.4 276.0,1079.3 277.0,1080.1 278.0,1080.8 279.0,1079.9 280.0,1078.9 281.0,1079.0 282.0,1080.4 283.0,1080.3 284.0,1079.6 285.0,1080.1 286.0,1079.7 287.0,1079.3 288.0,1080.3 289.0,1079.9 290.0,1079.1 291.0,1079.6 292.0,1080.0 293.0,1079.7 294.0,1079.9 295.0,1080.1 296.0,1079.5 297.0,1079.1 298.0,1079.8 299.0,1080.7 300.0,1081.2 301.0,1080.1 302.0,1080.0 303.0,1080.8 304.0,1080.2 305.0,1080.1 306.0,1080.5 307.0,1081.2 308.0,1080.2 309.0,1079.6 310.0,1080.1 311.0,1079.6 312.0,1080.3 313.0,1080.8 314.0,1079.7 315.0,1079.1 316.0,1079.8 317.0,1079.2 318.0,1079.5 319.0,1080.2 320.0,1079.8 321.0,1080.0 322.0,1080.9 323.0,1080.7 324.0,1079.6 325.0,1080.4 326.0,1080.4 327.0,1079.2 328.0,1078.7 329.0,1079.5 330.0,1080.4 331.0,1080.1 332.0,1080.0 333.0,1079.7 334.0,1079.2 335.0,1078.8 336.0,1079.5 337.0,1079.9 338.0,1080.6 339.0,1080.1 340.0,1079.0 341.0,1078.8 342.0,1079.8 343.0,1079.7 344.0,1079.4 345.0,1080.7 346.0,1080.3 347.0,1079.9 348.0,1078.8 349.0,1078.3 350.0,1078.5 351.0,1078.8 352.0,1079.6 353.0,1079.1 354.0,1079.6 355.0,1080.2 356.0,1079.4 357.0,1079.0 358.0,1078.5 359.0,1078.6 360.0,1080.5 361.0,1080.2 362.0,1079.3 363.0,1079.4 364.0,1079.6 365.0,1080.1 366.0,1079.6 367.0,1078.4 368.0,1078.3 369.0,1079.8 370.0,1079.9 371.0,1079.6 372.0,1079.5 373.0,1078.2 374.0,1078.7 375.0,1079.8 376.0,1079.3 377.0,1078.9 378.0,1079.3 379.0,1079.2 380.0,1079.2 381.0,1079.4 382.0,1078.0 383.0,1078.0 384.0,1079.0 385.0,1078.6 386.0,1079.1 387.0,1079.3 388.0,1079.4 389.0,1080.3 390.0,1080.1 391.0,1078.7 392.0,1078.3 393.0,1079.6 394.0,1079.9 395.0,1079.0 396.0,1079.1 397.0,1079.8 398.0,1080.0 399.0,1080.1 400.0,1079.6 401.0,1079.1 402.0,1079.4 403.0,1079.6 404.0,1078.6 405.0,1078.5 406.0,1079.0 407.0,1079.8 408.0,1081.3 409.0,1081.5 410.0,1081.1 411.0,1080.0 412.0,1080.1 413.0,1080.3 414.0,1080.2 415.0,1079.8 416.0,1079.2 417.0,1079.9 418.0,1081.2 419.0,1081.0 420.0,1081.2 421.0,1082.7 422.0,1080.9 423.0,1079.4 424.0,1079.6 425.0,1079.6 426.0,1079.8 427.0,1079.9 428.0,1080.7 429.0,1081.2 430.0,1080.9 431.0,1080.4 432.0,1080.4 433.0,1080.5 434.0,1080.7 435.0,1080.7 436.0,1080.7 437.0,1080.0 438.0,1080.2 439.0,1081.8 440.0,1081.5 441.0,1079.9 442.0,1080.5 443.0,1081.1 444.0,1078.8 445.0,1078.9 446.0,1080.8 447.0,1081.1 448.0,1081.5 449.0,1081.6 450.0,1081.1 451.0,1079.7 452.0,1079.1 453.0,1080.3 454.0,1081.2 455.0,1080.6 456.0,1080.0 457.0,1080.8 458.0,1080.1 459.0,1078.9 460.0,1079.8 461.0,1080.9 462.0,1080.8 463.0,1079.5 464.0,1079.8 465.0,1080.3 466.0,1080.7 467.0,1081.3 468.0,1081.1 469.0,1081.5 470.0,1081.1 471.0,1081.3 472.0,1082.2 473.0,1082.0 474.0,1082.1 475.0,1081.6 476.0,1081.4 477.0,1081.8 478.0,1080.9 479.0,1080.7 480.0,1081.0 481.0,1080.7 482.0,1081.1 483.0,1081.9 484.0,1081.8 485.0,1081.3 486.0,1080.7 487.0,1080.7 488.0,1082.1 489.0,1082.5 490.0,1082.1 491.0,1081.5 492.0,1080.7 493.0,1081.0 494.0,1080.8 495.0,1080.2 496.0,1081.4 497.0,1081.6 498.0,1082.1 499.0,1081.8 500.0,1081.2 501.0,1081.3 502.0,1081.2 503.0,1081.2 504.0,1081.2 505.0,1081.6 506.0,1081.4 507.0,1081.7 508.0,1082.7 509.0,1082.2 510.0,1081.8 511.0,1082.2 512.0,1081.7 513.0,1082.8 514.0,1081.7 515.0,1080.2 516.0,1080.4 517.0,1080.6 518.0,1081.4 519.0,1083.6 520.0,1083.9 521.0,1082.8 522.0,1083.3 523.0,1082.2 524.0,1081.7 525.0,1082.8 526.0,1082.7 527.0,1081.9 528.0,1082.1 529.0,1081.2 530.0,1080.5 531.0,1081.5 532.0,1082.2 533.0,1081.5 534.0,1081.1 535.0,1081.5 536.0,1081.6 537.0,1082.0 538.0,1082.1 539.0,1081.9 540.0,1081.1 541.0,1080.4 542.0,1081.3 543.0,1081.1 544.0,1081.0 545.0,1081.5 546.0,1080.9 547.0,1081.6 548.0,1081.7 549.0,1080.9 550.0,1080.9 551.0,1081.4 552.0,1083.2 553.0,1082.0 554.0,1080.6 555.0,1081.6 556.0,1082.1 557.0,1082.0 558.0,1080.2 559.0,1081.1 560.0,1081.8 561.0,1081.1 562.0,1080.9 563.0,1080.4 564.0,1080.8 565.0,1081.9 566.0,1082.6 567.0,1081.8 568.0,1081.6 569.0,1081.7 570.0,1081.5 571.0,1081.8 572.0,1082.0 573.0,1081.6 574.0,1081.2 575.0,1081.7 576.0,1081.8 577.0,1081.2 578.0,1082.1 579.0,1082.2 580.0,1081.7 581.0,1082.1 582.0,1082.3 583.0,1081.0 584.0,1081.5 585.0,1082.5 586.0,1080.8 587.0,1080.9 588.0,1082.7 589.0,1082.9 590.0,1081.1 591.0,1080.6 592.0,1081.9 593.0,1081.4 594.0,1080.6 595.0,1081.1 596.0,1082.3 597.0,1082.3 598.0,1081.9 599.0,1081.6 600.0,1080.5 601.0,1081.4 602.0,1082.1 603.0,1080.6 604.0,1080.6 605.0,1081.8 606.0,1081.1 607.0,1080.9 608.0,1081.3 609.0,1080.9 610.0,1080.5 611.0,1080.3 612.0,1080.5 613.0,1080.1 614.0,1080.2 615.0,1080.0 616.0,1080.1 617.0,1080.7 618.0,1080.1 619.0,1080.6 620.0,1082.1 621.0,1082.3 622.0,1080.5 623.0,1080.4 624.0,1081.2 625.0,1080.4 626.0,1079.9 627.0,1079.9 628.0,1080.9 629.0,1081.1 630.0,1080.1 631.0,1079.4 632.0,1079.3 633.0,1079.9 634.0,1081.0 635.0,1080.1 636.0,1079.0 637.0,1079.3 638.0,1078.8 639.0,1079.1 640.0,1079.7 641.0,1078.6 642.0,1077.7 643.0,1078.9 644.0,1079.5 645.0,1079.1 646.0,1078.5 647.0,1077.9 648.0,1078.3 649.0,1078.1 650.0,1077.2 651.0,1077.3 652.0,1078.2 653.0,1077.5 654.0,1077.4 655.0,1078.2 656.0,1077.0 657.0,1076.5 658.0,1076.8 659.0,1076.9 660.0,1077.1 661.0,1075.9 662.0,1074.7 663.0,1075.7 664.0,1076.3 665.0,1075.8 666.0,1075.7 667.0,1076.0 668.0,1075.0 669.0,1074.6 670.0,1074.5 671.0,1074.1 672.0,1075.0 673.0,1073.6 674.0,1072.9 675.0,1073.2 676.0,1072.6 677.0,1072.5 678.0,1071.8 679.0,1071.0 680.0,1071.5 681.0,1072.2 682.0,1071.2 683.0,1069.7 684.0,1070.8 685.0,1071.8 686.0,1070.4 687.0,1068.9 688.0,1068.0 689.0,1068.3 690.0,1067.6 691.0,1067.9 692.0,1068.0 693.0,1066.8 694.0,1065.7 695.0,1064.5 696.0,1064.0 697.0,1064.0 698.0,1063.6 699.0,1062.6 700.0,1062.2 701.0,1061.7 702.0,1061.4 703.0,1060.3 704.0,1058.1 705.0,1057.1 706.0,1057.2 707.0,1055.7 708.0,1053.6 709.0,1052.3 710.0,1050.8 711.0,1049.3 712.0,1046.7 713.0,1044.3 714.0,1042.7 715.0,1040.6 716.0,1037.4 717.0,1033.8 718.0,1029.0 719.0,1023.7 720.0,1019.0 721.0,1012.3 722.0,1004.4 723.0,995.3 724.0,984.9 725.0,973.1 726.0,957.8 727.0,940.5 728.0,918.8 729.0,891.5 730.0,859.1 731.0,819.6 732.0,774.1 733.0,721.9 734.0,666.8 735.0,617.3 736.0,583.6 737.0,575.7 738.0,592.2 739.0,627.9 740.0,675.1 741.0,726.6 742.0,774.7 743.0,816.9 744.0,854.0 745.0,886.7 746.0,914.0 747.0,934.8 748.0,952.5 749.0,967.0 750.0,979.4 751.0,990.7 752.0,1000.0 753.0,1007.3 754.0,1013.6 755.0,1020.2 756.0,1025.9 757.0,1029.0 758.0,1032.9 759.0,1038.1 760.0,1040.9 761.0,1043.1 762.0,1045.2 763.0,1047.8 764.0,1050.0 765.0,1050.8 766.0,1052.9 767.0,1056.3 768.0,1057.6 769.0,1057.1 770.0,1058.8 771.0,1060.7 772.0,1062.4 773.0,1062.6 774.0,1061.8 775.0,1063.2 776.0,1065.0 777.0,1066.1 778.0,1067.1 779.0,1066.9 780.0,1066.5 781.0,1067.8 782.0,1069.2 783.0,1070.0 784.0,1069.8 785.0,1069.5 786.0,1070.6 787.0,1072.0 788.0,1073.4 789.0,1073.1 790.0,1072.9 791.0,1072.6 792.0,1071.8 793.0,1072.3 794.0,1072.6 795.0,1072.7 796.0,1072.8 797.0,1073.4 798.0,1073.6 799.0,1074.0 800.0,1074.3 801.0,1074.0 802.0,1074.9 803.0,1075.1 804.0,1074.4 805.0,1074.2 806.0,1074.1 807.0,1074.4 808.0,1073.9 809.0,1074.1 810.0,1075.3 811.0,1075.2 812.0,1074.0 813.0,1072.5 814.0,1072.5 815.0,1073.3 816.0,1073.9 817.0,1073.6 818.0,1073.0 819.0,1073.8 820.0,1073.6 821.0,1073.4 822.0,1074.2 823.0,1073.0 824.0,1072.7 825.0,1073.2 826.0,1072.6 827.0,1072.1 828.0,1071.9 829.0,1073.3 830.0,1074.1 831.0,1074.2 832.0,1074.1 833.0,1074.0 834.0,1074.7 835.0,1074.4 836.0,1073.9 837.0,1075.3 838.0,1076.5 839.0,1076.1 840.0,1076.3 841.0,1077.5 842.0,1078.8 843.0,1078.4 844.0,1078.1 845.0,1079.9 846.0,1080.0 847.0,1079.9 848.0,1078.9 849.0,1079.1 850.0,1080.7 851.0,1079.3 852.0,1079.9 853.0,1081.7 854.0,1082.1 855.0,1082.4 856.0,1081.9 857.0,1081.1 858.0,1081.0 859.0,1081.6 860.0,1082.2 861.0,1082.1 862.0,1082.0 863.0,1082.8 864.0,1083.0 865.0,1083.9 866.0,1084.9 867.0,1083.2 868.0,1081.9 869.0,1081.8 870.0,1081.6 871.0,1082.6 872.0,1082.7 873.0,1082.0 874.0,1082.4 875.0,1083.4 876.0,1083.4 877.0,1082.8 878.0,1083.5 879.0,1084.0 880.0,1083.7 881.0,1084.0 882.0,1083.3 883.0,1082.9 884.0,1083.2 885.0,1083.6 886.0,1084.4 887.0,1083.3 888.0,1083.6 889.0,1083.6 890.0,1083.5 891.0,1084.2 892.0,1083.2 893.0,1082.5 894.0,1082.8 895.0,1083.4 896.0,1083.2 897.0,1083.6 898.0,1083.2 899.0,1082.9 900.0,1083.7 901.0,1082.7 902.0,1082.9 903.0,1083.3 904.0,1081.8 905.0,1082.2 906.0,1083.4 907.0,1084.2 908.0,1084.1 909.0,1084.4 910.0,1085.4 911.0,1085.3 912.0,1085.2 913.0,1084.9 914.0,1083.9 915.0,1084.1 916.0,1084.9 917.0,1084.7 918.0,1084.1 919.0,1083.2 920.0,1083.7 921.0,1084.7 922.0,1083.7 923.0,1083.6 924.0,1084.7 925.0,1084.6 926.0,1084.6 927.0,1085.1 928.0,1083.9 929.0,1083.4 930.0,1084.5 931.0,1085.1 932.0,1085.6 933.0,1084.2 934.0,1083.4 935.0,1084.8 936.0,1085.5 937.0,1086.0 938.0,1084.9 939.0,1083.9 940.0,1083.8 941.0,1084.5 942.0,1084.3 943.0,1084.5 944.0,1085.7 945.0,1085.4 946.0,1083.8 947.0,1083.2 948.0,1084.8 949.0,1084.4 950.0,1083.9 951.0,1084.6 952.0,1085.2 953.0,1085.4 954.0,1085.1 955.0,1084.8 956.0,1084.6 957.0,1084.8 958.0,1085.2 959.0,1085.2 960.0,1085.4 961.0,1084.6 962.0,1084.7 963.0,1085.5 964.0,1085.5 965.0,1085.7 966.0,1085.5 967.0,1086.3 968.0,1085.6 969.0,1084.9 970.0,1085.1 971.0,1085.2 972.0,1084.4 973.0,1084.3 974.0,1085.0 975.0,1084.7 976.0,1084.7 977.0,1084.4 978.0,1085.2 979.0,1086.2 980.0,1086.5 981.0,1085.8 982.0,1084.3 983.0,1084.9 984.0,1084.7 985.0,1084.6 986.0,1085.2 987.0,1084.9 988.0,1085.4 989.0,1085.6 990.0,1086.5 991.0,1086.8 992.0,1085.2 993.0,1085.4 994.0,1085.4 995.0,1084.9 996.0,1085.0 997.0,1084.5 998.0,1085.9 999.0,1086.0 1000.0,1085.0 1001.0,1085.0 1002.0,1085.2 1003.0,1086.2 1004.0,1085.8 1005.0,1084.4 1006.0,1085.3 1007.0,1085.1 1008.0,1084.7 1009.0,1086.1 1010.0,1086.3 1011.0,1085.4 1012.0,1085.1 1013.0,1084.8 1014.0,1084.9 1015.0,1085.5 1016.0,1086.4 1017.0,1086.8 1018.0,1085.9 1019.0,1085.0 1020.0,1085.7 1021.0,1085.1 1022.0,1084.5 1023.0,1085.3 1024.0,1085.0 1025.0,1084.6 1026.0,1085.4 1027.0,1085.0 1028.0,1084.4 1029.0,1084.9 1030.0,1085.4 1031.0,1085.1 1032.0,1085.6 1033.0,1086.1 1034.0,1085.4 1035.0,1085.4 1036.0,1085.2 1037.0,1084.9 1038.0,1085.8 1039.0,1086.4 1040.0,1085.8 1041.0,1086.2 1042.0,1085.9 1043.0,1085.7 1044.0,1086.1 1045.0,1085.3 1046.0,1085.7 1047.0,1085.4 1048.0,1085.3 1049.0,1085.6 1050.0,1085.5 1051.0,1086.7 1052.0,1086.8 1053.0,1085.7 1054.0,1085.4 1055.0,1085.6 1056.0,1085.0 1057.0,1084.6 1058.0,1085.2 1059.0,1086.1 1060.0,1085.1 1061.0,1084.8 1062.0,1086.0 1063.0,1086.1 1064.0,1085.3 1065.0,1085.8 1066.0,1085.7 1067.0,1085.5 1068.0,1086.9 1069.0,1085.6 1070.0,1084.9 1071.0,1086.1 1072.0,1086.1 1073.0,1085.5 1074.0,1085.2 1075.0,1084.9 1076.0,1085.1 1077.0,1086.1 1078.0,1085.7 1079.0,1085.0 1080.0,1085.1 1081.0,1085.6 1082.0,1085.8 1083.0,1085.8 1084.0,1085.8 1085.0,1085.2 1086.0,1083.7 1087.0,1084.7 1088.0,1086.9 1089.0,1085.8 1090.0,1084.7 1091.0,1085.6 1092.0,1086.5 1093.0,1086.6 1094.0,1086.8 1095.0,1086.5 1096.0,1086.0 1097.0,1086.2 1098.0,1085.8 1099.0,1086.2 1100.0,1086.8 1101.0,1086.7 1102.0,1086.1 1103.0,1086.2 1104.0,1085.8 1105.0,1085.5 1106.0,1084.7 1107.0,1084.0 1108.0,1085.7 1109.0,1086.0 1110.0,1085.7 1111.0,1085.1 1112.0,1085.8 1113.0,1087.0 1114.0,1086.1 1115.0,1086.1 1116.0,1086.2 1117.0,1086.8 1118.0,1086.7 1119.0,1085.2 1120.0,1085.0 1121.0,1086.4 1122.0,1086.8 1123.0,1085.9 1124.0,1086.0 1125.0,1086.2 1126.0,1086.2 1127.0,1085.4 1128.0,1084.6 1129.0,1085.8 1130.0,1086.1 1131.0,1085.9 1132.0,1087.1 1133.0,1086.7 1134.0,1085.8 1135.0,1085.7 1136.0,1085.3 1137.0,1085.5 1138.0,1085.1 1139.0,1084.1 1140.0,1085.5 1141.0,1086.5 1142.0,1086.4 1143.0,1086.5 1144.0,1086.0 1145.0,1086.3 1146.0,1086.6 1147.0,1085.7 1148.0,1085.9 1149.0,1086.0 1150.0,1085.5 1151.0,1087.3 1152.0,1087.3 1153.0,1086.8 1154.0,1086.6 1155.0,1086.1 1156.0,1086.3 1157.0,1086.2 1158.0,1085.7 1159.0,1085.0 1160.0,1085.6 1161.0,1085.3 1162.0,1084.7 1163.0,1085.8 1164.0,1085.9 1165.0,1085.2 1166.0,1084.9 1167.0,1085.4 1168.0,1085.8 1169.0,1085.8 1170.0,1085.9 1171.0,1086.8 1172.0,1086.7 1173.0,1084.7 1174.0,1085.0 1175.0,1086.0 1176.0,1086.0 1177.0,1085.2 1178.0,1085.7 1179.0,1086.5 1180.0,1085.9 1181.0,1085.1 1182.0,1085.4 1183.0,1086.2 1184.0,1086.6 1185.0,1086.4 1186.0,1085.1 1187.0,1085.4 1188.0,1085.6 1189.0,1085.7 1190.0,1085.6 1191.0,1085.3 1192.0,1085.8 1193.0,1085.8 1194.0,1085.7 1195.0,1085.3 1196.0,1085.5 1197.0,1085.6 1198.0,1085.8 1199.0,1085.9 1200.0,1084.7 1201.0,1084.8 1202.0,1086.7 1203.0,1086.8 1204.0,1086.4 1205.0,1086.5 1206.0,1086.0 1207.0,1085.1 1208.0,1085.7 1209.0,1086.9 1210.0,1086.8 1211.0,1086.5 1212.0,1086.4 1213.0,1086.2 1214.0,1086.1 1215.0,1086.1 1216.0,1086.2 1217.0,1085.7 1218.0,1085.2 1219.0,1086.0 1220.0,1086.1 1221.0,1084.6 1222.0,1084.8 1223.0,1084.9 1224.0,1085.8 1225.0,1087.3 1226.0,1086.7 1227.0,1086.0 1228.0,1085.1 1229.0,1085.3 1230.0,1085.9 1231.0,1085.6 1232.0,1085.7 1233.0,1086.4 1234.0,1086.7 1235.0,1085.8 1236.0,1084.4 1237.0,1084.9 1238.0,1085.7 1239.0,1085.9 1240.0,1087.1 1241.0,1087.7 1242.0,1087.0 1243.0,1086.7 1244.0,1087.4 1245.0,1086.9 1246.0,1086.2 1247.0,1086.6 1248.0,1086.4 1249.0,1085.8 1250.0,1085.4 1251.0,1085.7 1252.0,1085.7 1253.0,1086.1 1254.0,1086.3 1255.0,1086.6 1256.0,1087.4 1257.0,1086.0 1258.0,1086.0 1259.0,1086.4 1260.0,1086.5 1261.0,1087.0 1262.0,1086.3 1263.0,1086.4 1264.0,1086.1 1265.0,1085.9 1266.0,1086.4 1267.0,1086.2 1268.0,1086.2 1269.0,1085.8 1270.0,1085.8 1271.0,1085.7 1272.0,1085.8 1273.0,1086.6 1274.0,1086.7 1275.0,1086.2 1276.0,1087.3 1277.0,1087.5 1278.0,1086.0 1279.0,1085.8 1280.0,1086.4 1281.0,1086.6 1282.0,1086.3 1283.0,1086.1 1284.0,1085.8 1285.0,1086.1 1286.0,1086.4 1287.0,1086.4 1288.0,1085.5 1289.0,1085.9 1290.0,1085.7 1291.0,1085.0 1292.0,1086.0 1293.0,1085.6 1294.0,1085.5 1295.0,1086.3 1296.0,1085.4 1297.0,1085.8 1298.0,1086.5 1299.0,1086.1 1300.0,1085.7 1301.0,1086.4 1302.0,1086.9 1303.0,1086.5 1304.0,1085.7 1305.0,1085.3 1306.0,1085.3 1307.0,1086.2 1308.0,1086.7 1309.0,1086.6 1310.0,1087.0 1311.0,1086.7 1312.0,1085.8 1313.0,1085.7 1314.0,1086.9 1315.0,1086.0 1316.0,1085.2 1317.0,1086.5 1318.0,1086.4 1319.0,1087.3 1320.0,1087.9 1321.0,1087.1 1322.0,1086.1 1323.0,1085.9 1324.0,1086.2 1325.0,1086.0 1326.0,1086.2 1327.0,1086.0 1328.0,1086.2 1329.0,1087.2 1330.0,1087.4 1331.0,1086.7 1332.0,1085.3 1333.0,1085.7 1334.0,1087.2 1335.0,1086.6 1336.0,1085.8 1337.0,1086.2 1338.0,1086.0 1339.0,1086.1 1340.0,1086.0 1341.0,1085.1 1342.0,1085.7 1343.0,1085.4 1344.0,1085.4 1345.0,1086.4 1346.0,1085.7 1347.0,1085.9 1348.0,1086.3 1349.0,1086.1 1350.0,1086.5 1351.0,1086.0 1352.0,1085.6 1353.0,1085.0 1354.0,1084.9 1355.0,1085.4 1356.0,1086.5 1357.0,1087.4 1358.0,1085.9 1359.0,1085.8 1360.0,1086.6 1361.0,1086.0 1362.0,1086.1 1363.0,1086.7 1364.0,1086.2 1365.0,1085.6 1366.0,1086.0 1367.0,1085.7 1368.0,1085.7 1369.0,1086.1 1370.0,1085.7 1371.0,1085.3 1372.0,1085.8 1373.0,1086.6 1374.0,1086.6 1375.0,1085.8 1376.0,1086.0 1377.0,1086.5 1378.0,1086.4 1379.0,1086.8 1380.0,1086.1 1381.0,1085.5 1382.0,1085.6 1383.0,1085.2 1384.0,1086.5 1385.0,1087.4 1386.0,1085.5 1387.0,1085.3 1388.0,1085.8 1389.0,1086.2 1390.0,1086.5 1391.0,1085.8 1392.0,1085.8 1393.0,1086.1 1394.0,1086.0 1395.0,1085.7 1396.0,1085.6 1397.0,1085.9 1398.0,1085.4 1399.0,1085.2 1400.0,1085.6 1401.0,1085.4 1402.0,1085.8 1403.0,1085.4 1404.0,1084.8 1405.0,1085.0 1406.0,1085.4 1407.0,1085.6 1408.0,1085.3 1409.0,1085.7 1410.0,1084.8 1411.0,1084.8 1412.0,1085.2 1413.0,1084.8 1414.0,1085.1 1415.0,1085.5 1416.0,1085.9 1417.0,1086.3 1418.0,1086.0 1419.0,1084.8 1420.0,1084.4 1421.0,1084.9 1422.0,1085.8 1423.0,1085.6 1424.0,1084.4 1425.0,1084.3 1426.0,1084.6 1427.0,1084.3 1428.0,1083.7 1429.0,1082.3 1430.0,1082.2 1431.0,1083.8 1432.0,1084.0 1433.0,1082.1 1434.0,1081.8 1435.0,1081.7 1436.0,1082.3 1437.0,1082.9 1438.0,1080.8 1439.0,1080.5 1440.0,1080.0 1441.0,1079.1 1442.0,1078.4 1443.0,1076.3 1444.0,1075.1 1445.0,1073.1 1446.0,1071.2 1447.0,1069.2 1448.0,1065.0 1449.0,1060.5 1450.0,1057.8 1451.0,1055.0 1452.0,1048.9 1453.0,1044.0 1454.0,1039.8 1455.0,1034.3 1456.0,1030.3 1457.0,1027.4 1458.0,1026.6 1459.0,1027.0 1460.0,1026.8 1461.0,1030.2 1462.0,1035.0 1463.0,1037.4 1464.0,1041.1 1465.0,1045.6 1466.0,1050.1 1467.0,1054.9 1468.0,1058.8 1469.0,1061.9 1470.0,1064.5 1471.0,1068.0 1472.0,1070.8 1473.0,1073.7 1474.0,1075.1 1475.0,1076.0 1476.0,1077.7 1477.0,1078.0 1478.0,1079.6 1479.0,1080.8 1480.0,1080.3 1481.0,1080.7 1482.0,1082.1 1483.0,1082.0 1484.0,1082.6 1485.0,1083.8 1486.0,1083.2 1487.0,1083.8 1488.0,1085.0 1489.0,1084.8 1490.0,1084.2 1491.0,1085.0 1492.0,1085.8 1493.0,1084.6 1494.0,1083.9 1495.0,1084.3 1496.0,1084.3 1497.0,1083.8 1498.0,1084.5 1499.0,1085.4 1500.0,1085.1 1501.0,1085.8 1502.0,1085.6 1503.0,1084.9 1504.0,1085.4 1505.0,1085.3 1506.0,1085.1 1507.0,1085.8 1508.0,1085.9 1509.0,1086.2 1510.0,1085.9 1511.0,1085.4 1512.0,1085.1 1513.0,1085.0 1514.0,1085.4 1515.0,1086.1 1516.0,1086.9 1517.0,1086.5 1518.0,1087.1 1519.0,1087.6 1520.0,1087.0 1521.0,1086.0 1522.0,1085.0 1523.0,1085.3 1524.0,1085.9 1525.0,1085.6 1526.0,1085.7 1527.0,1085.2 1528.0,1086.1 1529.0,1086.4 1530.0,1085.3 1531.0,1086.2 1532.0,1085.7 1533.0,1085.9 1534.0,1087.2 1535.0,1086.6 1536.0,1085.6 1537.0,1085.6 1538.0,1085.2 1539.0,1086.1 1540.0,1087.1 1541.0,1086.0 1542.0,1085.6 1543.0,1086.3 1544.0,1087.5 1545.0,1086.6 1546.0,1085.5 1547.0,1085.3 1548.0,1085.9 1549.0,1086.9 1550.0,1087.7 1551.0,1087.6 1552.0,1086.3 1553.0,1086.0 1554.0,1086.6 1555.0,1086.2 1556.0,1086.1 1557.0,1087.1 1558.0,1086.5 1559.0,1085.9 1560.0,1086.7 1561.0,1088.1 1562.0,1087.3 1563.0,1086.7 1564.0,1087.8 1565.0,1087.2 1566.0,1086.2 1567.0,1085.9 1568.0,1086.0 1569.0,1086.6 1570.0,1086.5 1571.0,1086.1 1572.0,1085.6 1573.0,1085.3 1574.0,1085.6 1575.0,1086.6 1576.0,1086.8 1577.0,1086.1 1578.0,1086.7 1579.0,1087.4 1580.0,1086.7 1581.0,1086.1 1582.0,1086.8 1583.0,1087.3 1584.0,1086.6 1585.0,1086.5 1586.0,1086.9 1587.0,1087.4 1588.0,1087.0 1589.0,1086.9 1590.0,1087.5 1591.0,1086.6 1592.0,1086.9 1593.0,1087.9 1594.0,1086.7 1595.0,1087.2 1596.0,1087.3 1597.0,1085.9 1598.0,1086.3 1599.0,1087.1 1600.0,1087.6 1601.0,1087.2 1602.0,1087.6 1603.0,1087.8 1604.0,1087.9 1605.0,1089.1 1606.0,1088.5 1607.0,1085.8 1608.0,1085.5 1609.0,1086.2 1610.0,1086.5 1611.0,1087.1 1612.0,1086.4 1613.0,1085.8 1614.0,1086.3 1615.0,1086.8 1616.0,1085.6 1617.0,1086.2 1618.0,1087.5 1619.0,1087.0 1620.0,1087.2 1621.0,1086.7 1622.0,1086.5 1623.0,1087.6 1624.0,1088.1 1625.0,1087.9 1626.0,1087.2 1627.0,1086.5 1628.0,1087.3 1629.0,1088.0 1630.0,1087.2 1631.0,1085.8 1632.0,1085.6 1633.0,1085.7 1634.0,1086.8 1635.0,1087.9 1636.0,1086.8 1637.0,1086.6 1638.0,1088.3 1639.0,1089.1 1640.0,1087.1 1641.0,1086.4 1642.0,1086.5 1643.0,1085.7 1644.0,1086.4 1645.0,1088.5 1646.0,1089.2 1647.0,1088.0 1648.0,1087.0 1649.0,1087.1 1650.0,1087.8 1651.0,1087.0 1652.0,1085.5 1653.0,1087.2 1654.0,1088.3 1655.0,1088.2 1656.0,1088.2 1657.0,1088.1 1658.0,1087.7 1659.0,1087.2 1660.0,1088.3 1661.0,1088.6 1662.0,1087.6 1663.0,1087.5 1664.0,1087.4 1665.0,1086.2 1666.0,1086.8 1667.0,1088.3 1668.0,1088.5 1669.0,1087.1 1670.0,1087.1 1671.0,1088.1 1672.0,1087.4 1673.0,1085.8 1674.0,1086.6 1675.0,1088.3 1676.0,1088.1 1677.0,1086.7 1678.0,1085.7 1679.0,1087.1 1680.0,1088.3 1681.0,1088.0 1682.0,1087.5 1683.0,1087.4 1684.0,1087.3 1685.0,1086.9 1686.0,1086.8 1687.0,1087.1 1688.0,1087.3 1689.0,1087.7 1690.0,1088.3 1691.0,1087.4 1692.0,1087.9 1693.0,1087.8 1694.0,1087.1 1695.0,1088.2 1696.0,1088.7 1697.0,1087.0 1698.0,1086.8 1699.0,1088.6 1700.0,1088.8 1701.0,1087.0 1702.0,1085.9 1703.0,1087.1 1704.0,1087.2 1705.0,1087.9 1706.0,1087.8 1707.0,1087.8 1708.0,1088.4 1709.0,1087.0 1710.0,1086.2 1711.0,1086.7 1712.0,1087.3 1713.0,1088.1 1714.0,1087.9 1715.0,1087.9 1716.0,1087.2 1717.0,1085.1 1718.0,1085.8 1719.0,1087.6 1720.0,1087.6 1721.0,1086.8 1722.0,1087.2 1723.0,1088.8 1724.0,1088.5 1725.0,1087.1 1726.0,1086.7 1727.0,1088.2 1728.0,1088.6 1729.0,1087.9 1730.0,1088.5 1731.0,1088.8 1732.0,1087.7 1733.0,1087.6 1734.0,1088.5 1735.0,1088.3 1736.0,1088.4 1737.0,1087.9 1738.0,1087.3 1739.0,1087.3 1740.0,1087.8 1741.0,1087.7 1742.0,1087.5 1743.0,1087.3 1744.0,1087.0 1745.0,1087.4 1746.0,1087.4 1747.0,1087.7 1748.0,1087.6 1749.0,1087.5 1750.0,1086.5 1751.0,1087.2 1752.0,1087.9 1753.0,1087.2 1754.0,1087.1 1755.0,1087.8 1756.0,1087.7 1757.0,1087.5 1758.0,1088.6 1759.0,1089.2 1760.0,1089.2 1761.0,1088.7 1762.0,1087.4 1763.0,1087.8 1764.0,1089.0 1765.0,1088.8 1766.0,1088.6 1767.0,1088.2 1768.0,1087.5 1769.0,1088.1 1770.0,1089.0 1771.0,1087.9 1772.0,1087.7 1773.0,1088.4 1774.0,1088.4 1775.0,1088.4 1776.0,1088.5 1777.0,1088.9 1778.0,1088.8 1779.0,1087.6 1780.0,1087.5 1781.0,1088.3 1782.0,1087.3 1783.0,1087.6 1784.0,1087.5 1785.0,1087.6 1786.0,1089.2 1787.0,1088.5 1788.0,1088.1 1789.0,1088.6 1790.0,1088.4 1791.0,1087.5 1792.0,1087.5 1793.0,1088.3 1794.0,1088.3 1795.0,1088.3 1796.0,1088.5 1797.0,1088.6 1798.0,1088.4 1799.0,1089.0 1800.0,1088.7 1801.0,1088.5 1802.0,1088.5 1803.0,1088.2 1804.0,1087.8 1805.0,1087.9 1806.0,1088.8 1807.0,1088.3 1808.0,1088.0 1809.0,1088.3 1810.0,1087.2 1811.0,1087.2 1812.0,1088.4 1813.0,1087.9 1814.0,1086.3 1815.0,1086.6 1816.0,1087.2 1817.0,1088.0 1818.0,1088.3 1819.0,1087.3 1820.0,1086.9 1821.0,1087.0 1822.0,1087.0 1823.0,1086.4 1824.0,1086.6 1825.0,1086.6 1826.0,1087.3 1827.0,1087.1 1828.0,1086.4 1829.0,1086.6 1830.0,1085.9 1831.0,1087.0 1832.0,1086.6 1833.0,1086.5 1834.0,1086.8 1835.0,1086.1 1836.0,1088.0 1837.0,1086.8 1838.0,1084.9 1839.0,1086.6 1840.0,1087.4 1841.0,1086.4 1842.0,1086.2 1843.0,1086.0 1844.0,1086.0 1845.0,1087.3 1846.0,1087.0 1847.0,1086.3 1848.0,1087.0 1849.0,1088.0 1850.0,1087.0 1851.0,1086.1 1852.0,1086.1 1853.0,1085.6 1854.0,1085.6 1855.0,1085.6 1856.0,1084.9 1857.0,1084.1 1858.0,1084.6 1859.0,1085.7 1860.0,1086.6 1861.0,1086.3 1862.0,1085.5 1863.0,1086.2 1864.0,1086.6 1865.0,1086.3 1866.0,1085.9 1867.0,1086.9 1868.0,1086.8 1869.0,1085.6 1870.0,1085.0 1871.0,1085.5 1872.0,1086.2 1873.0,1087.0 1874.0,1086.9 1875.0,1086.4 1876.0,1087.1 1877.0,1087.5 1878.0,1086.4 1879.0,1086.4 1880.0,1087.1 1881.0,1086.2 1882.0,1086.1 1883.0,1086.0 1884.0,1086.0 1885.0,1085.0 1886.0,1085.5 1887.0,1086.7 1888.0,1086.0 1889.0,1085.9 1890.0,1087.6 1891.0,1087.9 1892.0,1086.5 1893.0,1087.2 1894.0,1087.0 1895.0,1086.1 1896.0,1086.2 1897.0,1086.2 1898.0,1086.9 1899.0,1087.3 1900.0,1086.6 1901.0,1086.3 1902.0,1086.7 1903.0,1086.6 1904.0,1086.5 1905.0,1086.4 1906.0,1086.1 1907.0,1086.5 1908.0,1086.3 1909.0,1086.6 1910.0,1087.0 1911.0,1086.3 1912.0,1086.1 1913.0,1086.4 1914.0,1086.6 1915.0,1087.0 1916.0,1087.0 1917.0,1086.5 1918.0,1087.3 1919.0,1088.3 1920.0,1087.6 1921.0,1087.6 1922.0,1087.8 1923.0,1087.2 1924.0,1087.1 1925.0,1088.6 1926.0,1089.1 1927.0,1088.3 1928.0,1087.6 1929.0,1087.4 1930.0,1088.7 1931.0,1088.7 1932.0,1088.1 1933.0,1088.5 1934.0,1088.3 1935.0,1088.5 1936.0,1088.3 1937.0,1087.8 1938.0,1087.4 1939.0,1088.5 1940.0,1089.0 1941.0,1087.7 1942.0,1088.3 1943.0,1088.0 1944.0,1087.3 1945.0,1087.2 1946.0,1087.2 1947.0,1087.4 1948.0,1087.7 1949.0,1087.8 1950.0,1087.3 1951.0,1087.2 1952.0,1087.4 1953.0,1087.3 1954.0,1087.8 1955.0,1088.4 1956.0,1088.0 1957.0,1087.1 1958.0,1087.3 1959.0,1087.2 1960.0,1087.0 1961.0,1087.7 1962.0,1087.3 1963.0,1086.9 1964.0,1086.8 1965.0,1088.3 1966.0,1088.5 1967.0,1087.3 1968.0,1087.9 1969.0,1088.2 1970.0,1088.3 1971.0,1087.4 1972.0,1086.3 1973.0,1088.6 1974.0,1089.2 1975.0,1087.3 1976.0,1087.4 1977.0,1088.0 1978.0,1087.3 1979.0,1087.0 1980.0,1087.6 1981.0,1087.7 1982.0,1087.8 1983.0,1087.2 1984.0,1086.7 1985.0,1085.7 1986.0,1086.6 1987.0,1087.1 1988.0,1086.4 1989.0,1087.9 1990.0,1087.9 1991.0,1087.4 1992.0,1087.5 1993.0,1087.5 1994.0,1087.6 1995.0,1087.0 1996.0,1087.6 1997.0,1087.7 1998.0,1086.3 1999.0,1086.3 2000.0,1087.2 2001.0,1086.8 2002.0,1086.9 2003.0,1087.8 2004.0,1088.4 2005.0,1087.7 2006.0,1086.9 2007.0,1086.4 2008.0,1085.8 2009.0,1086.6 2010.0,1087.0 2011.0,1086.9 2012.0,1086.6 2013.0,1086.3 2014.0,1086.1 2015.0,1086.5 2016.0,1086.9 2017.0,1087.0 2018.0,1087.2 2019.0,1087.4 2020.0,1085.9 2021.0,1085.0 2022.0,1085.8 2023.0,1085.6 2024.0,1086.2 2025.0,1086.8 2026.0,1086.1 2027.0,1085.7 2028.0,1086.3 2029.0,1085.9 2030.0,1085.0 2031.0,1085.5 2032.0,1085.8 2033.0,1085.9 2034.0,1085.7 2035.0,1085.2 2036.0,1084.6 2037.0,1083.5 2038.0,1083.6 2039.0,1082.5 2040.0,1082.5 2041.0,1084.0 2042.0,1083.6 2043.0,1082.6 2044.0,1082.8 2045.0,1082.5 2046.0,1082.0 2047.0,1082.6 2048.0,1081.9 2049.0,1080.6 2050.0,1079.7 2051.0,1078.5 2052.0,1077.3 2053.0,1075.9 2054.0,1074.9 2055.0,1072.3 2056.0,1069.5 2057.0,1068.2 2058.0,1065.0 2059.0,1061.3 2060.0,1057.6 2061.0,1053.5 2062.0,1049.4 2063.0,1044.5 2064.0,1038.3 2065.0,1030.8 2066.0,1023.9 2067.0,1017.5 2068.0,1011.0 2069.0,1002.8 2070.0,996.0 2071.0,990.9 2072.0,987.2 2073.0,986.2 2074.0,985.8 2075.0,987.5 2076.0,990.4 2077.0,993.9 2078.0,999.0 2079.0,1005.8 2080.0,1011.9 2081.0,1017.7 2082.0,1023.5 2083.0,1030.3 2084.0,1036.5 2085.0,1041.1 2086.0,1046.2 2087.0,1050.8 2088.0,1055.1 2089.0,1059.9 2090.0,1063.7 2091.0,1066.7 2092.0,1069.6 2093.0,1070.7 2094.0,1072.1 2095.0,1075.0 2096.0,1077.3 2097.0,1077.0 2098.0,1076.2 2099.0,1078.1 2100.0,1079.4 2101.0,1079.3 2102.0,1080.3 2103.0,1080.9 2104.0,1080.0 2105.0,1080.8 2106.0,1082.4 2107.0,1083.1 2108.0,1083.8 2109.0,1083.8 2110.0,1083.5 2111.0,1083.3 2112.0,1082.8 2113.0,1083.2 2114.0,1084.7 2115.0,1085.4 2116.0,1086.1 2117.0,1085.8 2118.0,1084.1 2119.0,1084.7 2120.0,1086.2 2121.0,1085.4 2122.0,1084.1 2123.0,1084.9 2124.0,1086.2 2125.0,1085.6 2126.0,1085.2 2127.0,1085.5 2128.0,1085.1 2129.0,1084.9 2130.0,1085.7 2131.0,1086.2 2132.0,1085.9 2133.0,1084.8 2134.0,1086.1 2135.0,1087.0 2136.0,1086.1 2137.0,1086.0 2138.0,1086.4 2139.0,1086.2 2140.0,1086.1 2141.0,1086.8 2142.0,1087.3 2143.0,1086.9 2144.0,1086.1 2145.0,1086.6 2146.0,1088.0 2147.0,1087.4 2148.0,1086.6 2149.0,1087.0 2150.0,1087.0 2151.0,1087.7 2152.0,1087.7 2153.0,1087.5 2154.0,1087.6 2155.0,1087.2 2156.0,1087.0 2157.0,1086.5 2158.0,1086.4 2159.0,1086.9 2160.0,1087.0 2161.0,1087.7 2162.0,1088.1 2163.0,1088.0 2164.0,1088.3 2165.0,1086.9 2166.0,1086.6 2167.0,1087.8 2168.0,1087.6 2169.0,1086.9 2170.0,1087.3 2171.0,1088.5 2172.0,1088.8 2173.0,1088.2 2174.0,1088.0 2175.0,1088.5 2176.0,1089.1 2177.0,1089.3 2178.0,1088.5 2179.0,1087.9 2180.0,1087.9 2181.0,1088.0 2182.0,1087.7 2183.0,1088.0 2184.0,1087.9 2185.0,1087.1 2186.0,1087.7 2187.0,1087.8 2188.0,1087.5 2189.0,1086.7 2190.0,1087.3 2191.0,1088.3 2192.0,1087.9 2193.0,1088.1 2194.0,1088.3 2195.0,1087.7 2196.0,1088.6 2197.0,1088.8 2198.0,1088.3 2199.0,1089.4 2200.0,1088.6 2201.0,1087.8 2202.0,1087.7 2203.0,1088.2 2204.0,1088.4 2205.0,1087.3 2206.0,1088.2 2207.0,1089.2 2208.0,1088.1 2209.0,1088.2 2210.0,1088.8 2211.0,1089.6 2212.0,1090.3 2213.0,1088.7 2214.0,1087.7 2215.0,1087.5 2216.0,1087.8 2217.0,1088.2 2218.0,1088.5 2219.0,1088.6 2220.0,1087.5 2221.0,1087.0 2222.0,1088.5 2223.0,1089.5 2224.0,1088.7 2225.0,1088.0 2226.0,1088.0 2227.0,1088.1 2228.0,1087.4 2229.0,1087.8 2230.0,1088.3 2231.0,1088.0 2232.0,1087.0 2233.0,1087.1 2234.0,1089.0 2235.0,1087.8 2236.0,1087.9 2237.0,1089.2 2238.0,1088.1 2239.0,1087.1 2240.0,1088.0 2241.0,1089.0 2242.0,1088.7 2243.0,1088.4 2244.0,1087.7 2245.0,1088.3 2246.0,1088.2 2247.0,1088.3 2248.0,1087.9 2249.0,1087.0 2250.0,1087.1 2251.0,1088.2 2252.0,1088.1 2253.0,1086.9 2254.0,1088.1 2255.0,1088.8 2256.0,1089.5 2257.0,1090.4 2258.0,1089.6 2259.0,1089.0 2260.0,1087.8 2261.0,1087.0 2262.0,1087.7 2263.0,1088.1 2264.0,1087.6 2265.0,1087.2 2266.0,1087.5 2267.0,1088.5 2268.0,1089.1 2269.0,1088.4 2270.0,1088.1 2271.0,1088.4 2272.0,1088.2 2273.0,1087.9 2274.0,1087.4 2275.0,1087.9 2276.0,1089.2 2277.0,1089.1 2278.0,1088.8 2279.0,1088.8 2280.0,1089.6 2281.0,1089.5 2282.0,1087.9 2283.0,1087.2 2284.0,1088.3 2285.0,1089.3 2286.0,1089.4 2287.0,1089.2 2288.0,1089.0 2289.0,1087.8 2290.0,1087.3 2291.0,1087.2 2292.0,1087.3 2293.0,1087.6 2294.0,1087.8 2295.0,1088.4 2296.0,1087.4 2297.0,1087.9 2298.0,1089.2 2299.0,1088.2 2300.0,1087.8 2301.0,1088.9 2302.0,1088.7 2303.0,1088.8 2304.0,1089.0 2305.0,1089.1 2306.0,1089.1 2307.0,1088.5 2308.0,1088.7 2309.0,1089.2 2310.0,1089.0 2311.0,1088.4 2312.0,1087.9 2313.0,1087.9 2314.0,1088.0 2315.0,1088.3 2316.0,1088.7 2317.0,1088.6 2318.0,1088.5 2319.0,1088.6 2320.0,1089.4 2321.0,1089.9 2322.0,1088.8 2323.0,1088.5 2324.0,1088.6 2325.0,1088.3 2326.0,1088.4 2327.0,1088.1 2328.0,1087.5 2329.0,1086.6 2330.0,1087.4 2331.0,1089.2 2332.0,1088.7 2333.0,1088.4 2334.0,1088.6 2335.0,1088.5 2336.0,1088.3 2337.0,1088.0 2338.0,1088.4 2339.0,1087.3 2340.0,1087.5 2341.0,1088.6"/>
<polyline fill="none" stroke="#ff00ff" stroke-width="11" stroke-linejoin="round" stroke-linecap="butt" points="219.0,913.2 220.0,914.8 221.0,916.0 222.0,915.8 223.0,915.9 224.0,915.6 225.0,914.9 226.0,914.8 227.0,915.2 228.0,916.5 229.0,917.6 230.0,916.3 231.0,915.1 232.0,915.5 233.0,916.0 234.0,915.5 235.0,914.6 236.0,916.0 237.0,917.0 238.0,915.2 239.0,913.8 240.0,914.1 241.0,915.1 242.0,915.8 243.0,915.5 244.0,914.4 245.0,914.7 246.0,915.8 247.0,915.7 248.0,915.1 249.0,915.4 250.0,915.6 251.0,914.7 252.0,914.8 253.0,914.7 254.0,915.1 255.0,916.0 256.0,915.0 257.0,914.8 258.0,916.0 259.0,914.7 260.0,914.0 261.0,915.9 262.0,915.2 263.0,914.3 264.0,914.3 265.0,914.4 266.0,913.8 267.0,913.0 268.0,914.0 269.0,914.9 270.0,915.3 271.0,915.5 272.0,915.8 273.0,916.0 274.0,915.7 275.0,914.9 276.0,914.4 277.0,916.5 278.0,917.7 279.0,916.5 280.0,915.7 281.0,915.8 282.0,915.2 283.0,915.7 284.0,915.7 285.0,914.6 286.0,915.9 287.0,914.9 288.0,913.9 289.0,914.1 290.0,913.6 291.0,914.4 292.0,914.5 293.0,914.7 294.0,914.4 295.0,914.3 296.0,914.1 297.0,913.9 298.0,913.8 299.0,914.3 300.0,914.3 301.0,914.4 302.0,914.8 303.0,914.3 304.0,915.1 305.0,915.3 306.0,913.7 307.0,913.9 308.0,913.3 309.0,913.2 310.0,914.5 311.0,913.6 312.0,913.8 313.0,914.4 314.0,915.4 315.0,915.3 316.0,915.3 317.0,916.2 318.0,914.8 319.0,913.7 320.0,914.7 321.0,915.0 322.0,914.4 323.0,914.3 324.0,913.6 325.0,913.5 326.0,913.7 327.0,913.0 328.0,913.4 329.0,915.1 330.0,916.1 331.0,915.1 332.0,914.3 333.0,914.6 334.0,915.2 335.0,915.1 336.0,914.1 337.0,913.8 338.0,914.6 339.0,916.1 340.0,915.2 341.0,912.8 342.0,913.5 343.0,914.5 344.0,914.1 345.0,914.8 346.0,914.8 347.0,913.4 348.0,912.3 349.0,913.0 350.0,913.4 351.0,913.6 352.0,913.5 353.0,913.1 354.0,913.0 355.0,913.0 356.0,913.5 357.0,914.0 358.0,914.9 359.0,914.5 360.0,913.4 361.0,914.5 362.0,915.1 363.0,914.4 364.0,914.5 365.0,914.9 366.0,915.1 367.0,914.7 368.0,914.6 369.0,913.9 370.0,913.2 371.0,913.6 372.0,914.0 373.0,914.1 374.0,914.2 375.0,914.3 376.0,913.9 377.0,913.1 378.0,913.7 379.0,914.9 380.0,914.1 381.0,914.0 382.0,914.7 383.0,914.5 384.0,913.4 385.0,912.8 386.0,913.4 387.0,914.9 388.0,914.8 389.0,913.8 390.0,913.7 391.0,913.7 392.0,914.5 393.0,913.7 394.0,912.0 395.0,913.5 396.0,915.0 397.0,914.4 398.0,914.9 399.0,915.7 400.0,914.2 401.0,913.6 402.0,915.3 403.0,915.1 404.0,914.3 405.0,915.2 406.0,915.3 407.0,914.2 408.0,914.0 409.0,913.9 410.0,914.6 411.0,914.4 412.0,914.7 413.0,914.8 414.0,914.3 415.0,914.4 416.0,914.2 417.0,915.6 418.0,916.4 419.0,916.5 420.0,915.9 421.0,915.3 422.0,915.5 423.0,915.8 424.0,915.5 425.0,915.8 426.0,916.2 427.0,916.2 428.0,916.3 429.0,916.1 430.0,915.5 431.0,915.0 432.0,914.7 433.0,914.8 434.0,915.4 435.0,916.0 436.0,915.5 437.0,916.8 438.0,917.4 439.0,916.4 440.0,917.0 441.0,915.1 442.0,914.4 443.0,916.5 444.0,915.4 445.0,915.1 446.0,915.9 447.0,915.3 448.0,915.9 449.0,915.2 450.0,915.2 451.0,915.9 452.0,915.4 453.0,916.1 454.0,918.4 455.0,918.2 456.0,916.7 457.0,916.5 458.0,915.9 459.0,916.1 460.0,917.3 461.0,917.2 462.0,916.9 463.0,916.8 464.0,917.6 465.0,916.9 466.0,915.9 467.0,917.1 468.0,917.0 469.0,916.1 470.0,915.4 471.0,915.9 472.0,916.6 473.0,916.1 474.0,915.5 475.0,916.4 476.0,917.6 477.0,917.0 478.0,916.1 479.0,916.1 480.0,917.8 481.0,918.4 482.0,917.1 483.0,917.4 484.0,918.7 485.0,918.8 486.0,916.9 487.0,916.2 488.0,916.8 489.0,916.7 490.0,916.3 491.0,916.3 492.0,916.4 493.0,916.8 494.0,917.4 495.0,916.5 496.0,915.6 497.0,916.1 498.0,917.3 499.0,917.8 500.0,917.5 501.0,915.5 502.0,915.2 503.0,916.6 504.0,916.7 505.0,916.4 506.0,916.4 507.0,916.7 508.0,918.3 509.0,919.0 510.0,917.5 511.0,917.1 512.0,917.2 513.0,917.3 514.0,917.1 515.0,917.0 516.0,917.8 517.0,918.2 518.0,917.8 519.0,918.1 520.0,918.1 521.0,916.8 522.0,915.8 523.0,916.0 524.0,916.8 525.0,917.4 526.0,918.0 527.0,917.5 528.0,916.5 529.0,917.2 530.0,918.3 531.0,917.6 532.0,917.2 533.0,918.1 534.0,918.1 535.0,917.4 536.0,916.1 537.0,916.8 538.0,918.3 539.0,917.6 540.0,917.1 541.0,916.3 542.0,916.5 543.0,917.1 544.0,917.7 545.0,917.2 546.0,917.3 547.0,918.0 548.0,917.9 549.0,917.3 550.0,916.9 551.0,918.0 552.0,917.9 553.0,916.5 554.0,916.3 555.0,917.3 556.0,916.7 557.0,915.7 558.0,916.6 559.0,916.8 560.0,917.1 561.0,916.9 562.0,915.6 563.0,915.8 564.0,917.6 565.0,917.5 566.0,916.7 567.0,917.3 568.0,916.8 569.0,917.2 570.0,917.8 571.0,917.5 572.0,916.5 573.0,915.3 574.0,914.8 575.0,915.6 576.0,916.9 577.0,917.4 578.0,918.3 579.0,917.8 580.0,916.8 581.0,917.2 582.0,918.1 583.0,917.5 584.0,917.0 585.0,917.3 586.0,916.8 587.0,917.3 588.0,917.1 589.0,916.1 590.0,916.8 591.0,917.4 592.0,916.9 593.0,916.8 594.0,917.2 595.0,917.1 596.0,917.2 597.0,917.6 598.0,918.0 599.0,918.4 600.0,918.1 601.0,917.3 602.0,916.9 603.0,916.7 604.0,918.1 605.0,918.3 606.0,917.0 607.0,917.9 608.0,916.8 609.0,915.7 610.0,916.2 611.0,916.1 612.0,915.6 613.0,915.8 614.0,917.2 615.0,917.8 616.0,917.1 617.0,916.7 618.0,915.8 619.0,916.2 620.0,917.2 621.0,916.3 622.0,916.2 623.0,916.6 624.0,916.2 625.0,915.8 626.0,915.7 627.0,915.7 628.0,916.2 629.0,916.9 630.0,916.8 631.0,916.5 632.0,916.0 633.0,917.2 634.0,916.4 635.0,915.9 636.0,917.0 637.0,916.4 638.0,915.9 639.0,915.7 640.0,915.3 641.0,914.7 642.0,915.2 643.0,915.0 644.0,915.4 645.0,916.8 646.0,914.5 647.0,913.1 648.0,915.0 649.0,915.8 650.0,915.7 651.0,915.7 652.0,916.0 653.0,916.1 654.0,916.6 655.0,916.1 656.0,915.5 657.0,914.6 658.0,913.9 659.0,914.1 660.0,914.8 661.0,916.5 662.0,916.0 663.0,913.9 664.0,913.5 665.0,914.0 666.0,914.1 667.0,914.5 668.0,914.7 669.0,912.6 670.0,912.7 671.0,913.7 672.0,912.5 673.0,913.3 674.0,913.3 675.0,911.6 676.0,910.8 677.0,911.4 678.0,912.3 679.0,912.8 680.0,912.0 681.0,910.7 682.0,911.4 683.0,911.1 684.0,910.7 685.0,910.8 686.0,909.8 687.0,909.2 688.0,908.9 689.0,908.4 690.0,907.4 691.0,907.2 692.0,906.7 693.0,906.5 694.0,906.4 695.0,905.5 696.0,904.8 697.0,904.2 698.0,904.6 699.0,904.0 700.0,902.0 701.0,901.0 702.0,900.8 703.0,900.0 704.0,898.5 705.0,897.4 706.0,896.4 707.0,895.4 708.0,894.2 709.0,891.6 710.0,889.1 711.0,886.7 712.0,885.6 713.0,885.2 714.0,882.8 715.0,879.3 716.0,875.7 717.0,871.5 718.0,866.0 719.0,859.2 720.0,851.5 721.0,842.9 722.0,832.4 723.0,819.3 724.0,800.7 725.0,778.1 726.0,751.7 727.0,718.9 728.0,679.9 729.0,636.2 730.0,587.3 731.0,534.0 732.0,478.8 733.0,423.4 734.0,372.9 735.0,333.1 736.0,308.5 737.0,304.3 738.0,317.4 739.0,345.3 740.0,386.0 741.0,432.4 742.0,481.4 743.0,532.5 744.0,581.3 745.0,626.3 746.0,667.8 747.0,703.6 748.0,734.6 749.0,762.1 750.0,785.0 751.0,803.0 752.0,818.6 753.0,832.2 754.0,842.7 755.0,851.1 756.0,858.0 757.0,863.7 758.0,868.1 759.0,871.6 760.0,876.2 761.0,879.7 762.0,881.9 763.0,883.9 764.0,886.0 765.0,888.3 766.0,891.5 767.0,893.0 768.0,892.4 769.0,894.8 770.0,897.1 771.0,896.7 772.0,897.3 773.0,899.9 774.0,900.0 775.0,900.8 776.0,901.9 777.0,901.8 778.0,902.6 779.0,903.6 780.0,903.7 781.0,905.7 782.0,906.7 783.0,905.7 784.0,906.9 785.0,907.7 786.0,908.4 787.0,908.7 788.0,908.6 789.0,909.1 790.0,909.4 791.0,909.6 792.0,909.7 793.0,911.0 794.0,911.0 795.0,910.1 796.0,910.5 797.0,911.3 798.0,911.9 799.0,912.3 800.0,911.5 801.0,911.3 802.0,912.1 803.0,911.9 804.0,912.2 805.0,911.5 806.0,911.6 807.0,912.8 808.0,911.9 809.0,911.9 810.0,913.5 811.0,913.3 812.0,912.9 813.0,913.0 814.0,912.2 815.0,911.9 816.0,912.1 817.0,913.3 818.0,913.9 819.0,912.8 820.0,912.9 821.0,913.2 822.0,912.4 823.0,912.7 824.0,912.6 825.0,911.5 826.0,912.7 827.0,912.6 828.0,912.3 829.0,912.5 830.0,912.3 831.0,913.1 832.0,913.0 833.0,912.0 834.0,912.3 835.0,913.6 836.0,913.3 837.0,913.4 838.0,914.6 839.0,914.4 840.0,914.2 841.0,914.1 842.0,914.3 843.0,915.4 844.0,916.7 845.0,917.0 846.0,916.1 847.0,916.5 848.0,915.9 849.0,915.9 850.0,916.3 851.0,915.5 852.0,916.5 853.0,917.1 854.0,917.3 855.0,916.6 856.0,916.1 857.0,916.7 858.0,916.5 859.0,915.9 860.0,916.6 861.0,917.8 862.0,916.8 863.0,916.1 864.0,916.2 865.0,917.7 866.0,918.2 867.0,917.3 868.0,917.7 869.0,917.9 870.0,917.9 871.0,918.3 872.0,918.4 873.0,918.5 874.0,917.8 875.0,917.4 876.0,917.9 877.0,918.0 878.0,918.2 879.0,917.8 880.0,917.7 881.0,918.6 882.0,918.5 883.0,917.4 884.0,918.0 885.0,919.2 886.0,918.8 887.0,918.4 888.0,918.2 889.0,918.0 890.0,919.1 891.0,919.6 892.0,919.2 893.0,918.7 894.0,917.8 895.0,918.1 896.0,919.2 897.0,919.7 898.0,920.5 899.0,920.2 900.0,919.7 901.0,918.9 902.0,919.1 903.0,920.1 904.0,920.3 905.0,920.2 906.0,919.8 907.0,920.2 908.0,919.7 909.0,919.3 910.0,920.2 911.0,919.5 912.0,918.4 913.0,919.1 914.0,919.7 915.0,919.9 916.0,920.2 917.0,919.5 918.0,919.4 919.0,920.4 920.0,920.0 921.0,919.4 922.0,919.0 923.0,919.6 924.0,921.2 925.0,920.1 926.0,919.5 927.0,920.7 928.0,920.1 929.0,919.5 930.0,919.2 931.0,919.1 932.0,919.7 933.0,920.5 934.0,920.5 935.0,920.6 936.0,920.7 937.0,919.7 938.0,920.4 939.0,921.6 940.0,920.5 941.0,920.8 942.0,921.4 943.0,920.6 944.0,921.4 945.0,920.0 946.0,918.3 947.0,919.9 948.0,920.6 949.0,919.8 950.0,920.7 951.0,921.5 952.0,920.1 953.0,919.5 954.0,920.6 955.0,921.9 956.0,920.4 957.0,919.6 958.0,920.5 959.0,919.5 960.0,919.6 961.0,919.7 962.0,919.5 963.0,921.2 964.0,921.7 965.0,921.3 966.0,921.4 967.0,921.2 968.0,921.4 969.0,920.6 970.0,920.0 971.0,921.0 972.0,920.8 973.0,920.2 974.0,921.2 975.0,922.2 976.0,921.3 977.0,920.1 978.0,920.8 979.0,921.3 980.0,920.7 981.0,920.9 982.0,921.5 983.0,921.3 984.0,922.5 985.0,923.2 986.0,922.1 987.0,921.9 988.0,923.1 989.0,923.1 990.0,921.2 991.0,920.9 992.0,921.3 993.0,920.8 994.0,921.0 995.0,921.4 996.0,921.2 997.0,920.9 998.0,921.3 999.0,920.8 1000.0,920.8 1001.0,921.6 1002.0,921.4 1003.0,920.1 1004.0,920.9 1005.0,921.2 1006.0,919.9 1007.0,921.1 1008.0,921.3 1009.0,920.7 1010.0,919.9 1011.0,919.9 1012.0,921.2 1013.0,921.7 1014.0,921.5 1015.0,921.3 1016.0,921.6 1017.0,921.2 1018.0,920.6 1019.0,921.9 1020.0,921.9 1021.0,921.5 1022.0,922.0 1023.0,922.1 1024.0,921.8 1025.0,921.3 1026.0,921.8 1027.0,921.4 1028.0,921.4 1029.0,921.1 1030.0,920.9 1031.0,921.1 1032.0,921.6 1033.0,921.7 1034.0,920.6 1035.0,920.5 1036.0,921.2 1037.0,920.9 1038.0,921.6 1039.0,922.3 1040.0,922.1 1041.0,921.5 1042.0,920.8 1043.0,921.8 1044.0,921.2 1045.0,920.9 1046.0,921.7 1047.0,921.3 1048.0,921.3 1049.0,921.0 1050.0,921.1 1051.0,921.0 1052.0,920.2 1053.0,921.6 1054.0,921.9 1055.0,920.1 1056.0,920.9 1057.0,921.6 1058.0,919.3 1059.0,919.7 1060.0,922.0 1061.0,922.2 1062.0,922.6 1063.0,922.4 1064.0,921.8 1065.0,921.4 1066.0,921.1 1067.0,922.5 1068.0,922.6 1069.0,921.9 1070.0,920.7 1071.0,920.4 1072.0,920.7 1073.0,921.3 1074.0,921.6 1075.0,921.4 1076.0,921.3 1077.0,922.1 1078.0,922.0 1079.0,921.1 1080.0,923.1 1081.0,923.1 1082.0,921.3 1083.0,921.5 1084.0,922.5 1085.0,922.6 1086.0,921.1 1087.0,920.8 1088.0,920.7 1089.0,921.6 1090.0,922.7 1091.0,921.5 1092.0,921.8 1093.0,922.3 1094.0,921.4 1095.0,921.9 1096.0,922.4 1097.0,920.7 1098.0,921.6 1099.0,923.3 1100.0,923.2 1101.0,922.7 1102.0,921.6 1103.0,921.8 1104.0,923.2 1105.0,923.2 1106.0,923.0 1107.0,922.2 1108.0,921.9 1109.0,922.8 1110.0,921.5 1111.0,920.2 1112.0,920.6 1113.0,921.5 1114.0,922.1 1115.0,921.9 1116.0,921.7 1117.0,921.7 1118.0,921.8 1119.0,922.2 1120.0,922.4 1121.0,922.1 1122.0,922.0 1123.0,921.8 1124.0,922.0 1125.0,922.0 1126.0,922.5 1127.0,922.7 1128.0,922.0 1129.0,921.6 1130.0,921.3 1131.0,921.8 1132.0,922.0 1133.0,921.6 1134.0,921.0 1135.0,921.3 1136.0,922.0 1137.0,922.3 1138.0,922.9 1139.0,922.4 1140.0,920.7 1141.0,920.8 1142.0,920.9 1143.0,920.3 1144.0,921.8 1145.0,922.8 1146.0,921.9 1147.0,921.3 1148.0,921.6 1149.0,921.0 1150.0,921.3 1151.0,922.1 1152.0,922.8 1153.0,922.4 1154.0,922.0 1155.0,922.2 1156.0,922.2 1157.0,922.0 1158.0,921.9 1159.0,922.2 1160.0,921.4 1161.0,921.5 1162.0,922.2 1163.0,922.5 1164.0,923.1 1165.0,923.3 1166.0,921.1 1167.0,920.5 1168.0,920.8 1169.0,920.8 1170.0,922.2 1171.0,921.7 1172.0,920.8 1173.0,921.5 1174.0,922.0 1175.0,922.8 1176.0,923.1 1177.0,922.5 1178.0,923.3 1179.0,922.8 1180.0,921.9 1181.0,921.6 1182.0,921.7 1183.0,922.8 1184.0,923.4 1185.0,922.8 1186.0,921.8 1187.0,921.4 1188.0,921.0 1189.0,921.5 1190.0,922.9 1191.0,921.6 1192.0,919.8 1193.0,921.8 1194.0,922.1 1195.0,921.5 1196.0,921.7 1197.0,921.9 1198.0,923.0 1199.0,922.7 1200.0,922.7 1201.0,922.7 1202.0,922.5 1203.0,923.5 1204.0,923.7 1205.0,922.4 1206.0,921.4 1207.0,921.7 1208.0,922.0 1209.0,922.1 1210.0,921.9 1211.0,922.2 1212.0,922.6 1213.0,922.4 1214.0,922.4 1215.0,922.5 1216.0,921.9 1217.0,922.4 1218.0,923.2 1219.0,922.6 1220.0,922.8 1221.0,923.1 1222.0,923.2 1223.0,922.7 1224.0,922.3 1225.0,921.3 1226.0,921.5 1227.0,922.2 1228.0,921.9 1229.0,923.3 1230.0,922.5 1231.0,921.3 1232.0,922.9 1233.0,923.4 1234.0,923.4 1235.0,922.2 1236.0,921.1 1237.0,922.1 1238.0,922.4 1239.0,923.0 1240.0,923.3 1241.0,922.5 1242.0,922.6 1243.0,922.3 1244.0,922.2 1245.0,922.0 1246.0,921.9 1247.0,922.0 1248.0,922.1 1249.0,921.6 1250.0,920.7 1251.0,921.7 1252.0,922.6 1253.0,921.9 1254.0,921.6 1255.0,921.6 1256.0,922.8 1257.0,922.5 1258.0,922.3 1259.0,922.7 1260.0,922.1 1261.0,922.3 1262.0,921.9 1263.0,922.6 1264.0,923.2 1265.0,922.5 1266.0,921.6 1267.0,922.9 1268.0,924.1 1269.0,923.1 1270.0,922.2 1271.0,922.3 1272.0,922.5 1273.0,922.9 1274.0,922.4 1275.0,921.8 1276.0,921.9 1277.0,922.5 1278.0,923.9 1279.0,923.2 1280.0,922.5 1281.0,923.3 1282.0,922.9 1283.0,921.6 1284.0,922.3 1285.0,923.1 1286.0,922.4 1287.0,922.9 1288.0,923.2 1289.0,921.5 1290.0,921.5 1291.0,922.4 1292.0,923.2 1293.0,923.2 1294.0,922.2 1295.0,922.4 1296.0,922.6 1297.0,921.7 1298.0,921.6 1299.0,922.2 1300.0,922.8 1301.0,924.3 1302.0,922.9 1303.0,921.2 1304.0,921.3 1305.0,921.5 1306.0,921.6 1307.0,921.9 1308.0,922.9 1309.0,922.2 1310.0,920.8 1311.0,920.5 1312.0,921.9 1313.0,923.5 1314.0,922.1 1315.0,920.6 1316.0,921.5 1317.0,922.9 1318.0,923.4 1319.0,922.9 1320.0,922.7 1321.0,922.8 1322.0,922.1 1323.0,923.0 1324.0,923.2 1325.0,921.7 1326.0,921.4 1327.0,921.2 1328.0,921.4 1329.0,922.8 1330.0,922.1 1331.0,922.2 1332.0,923.9 1333.0,923.5 1334.0,921.8 1335.0,921.2 1336.0,921.6 1337.0,921.4 1338.0,920.9 1339.0,921.4 1340.0,922.0 1341.0,922.4 1342.0,921.9 1343.0,922.6 1344.0,923.7 1345.0,923.2 1346.0,922.3 1347.0,922.8 1348.0,922.9 1349.0,923.0 1350.0,923.7 1351.0,922.3 1352.0,921.5 1353.0,922.9 1354.0,923.7 1355.0,922.6 1356.0,922.2 1357.0,922.4 1358.0,921.8 1359.0,921.6 1360.0,921.7 1361.0,921.6 1362.0,922.1 1363.0,921.9 1364.0,922.0 1365.0,922.5 1366.0,922.6 1367.0,923.0 1368.0,923.2 1369.0,923.1 1370.0,922.8 1371.0,922.3 1372.0,922.3 1373.0,921.9 1374.0,921.4 1375.0,922.3 1376.0,922.4 1377.0,922.2 1378.0,921.7 1379.0,922.2 1380.0,922.4 1381.0,921.9 1382.0,922.1 1383.0,922.4 1384.0,922.2 1385.0,921.2 1386.0,920.4 1387.0,920.7 1388.0,921.1 1389.0,921.5 1390.0,922.9 1391.0,921.4 1392.0,919.9 1393.0,921.3 1394.0,922.6 1395.0,922.5 1396.0,922.0 1397.0,922.1 1398.0,922.2 1399.0,922.8 1400.0,922.8 1401.0,921.3 1402.0,920.7 1403.0,921.4 1404.0,921.2 1405.0,920.9 1406.0,921.0 1407.0,920.7 1408.0,921.3 1409.0,921.5 1410.0,920.5 1411.0,920.2 1412.0,920.8 1413.0,922.2 1414.0,922.3 1415.0,921.9 1416.0,921.9 1417.0,919.9 1418.0,919.8 1419.0,920.4 1420.0,919.4 1421.0,919.2 1422.0,920.7 1423.0,920.4 1424.0,919.0 1425.0,920.3 1426.0,920.8 1427.0,919.2 1428.0,918.6 1429.0,919.0 1430.0,918.8 1431.0,919.2 1432.0,918.8 1433.0,917.9 1434.0,918.7 1435.0,917.5 1436.0,916.1 1437.0,916.9 1438.0,915.8 1439.0,914.6 1440.0,913.7 1441.0,913.2 1442.0,912.4 1443.0,911.3 1444.0,910.4 1445.0,908.0 1446.0,904.8 1447.0,902.1 1448.0,899.0 1449.0,894.4 1450.0,890.7 1451.0,886.7 1452.0,881.4 1453.0,875.1 1454.0,869.6 1455.0,865.9 1456.0,860.6 1457.0,854.3 1458.0,850.7 1459.0,849.7 1460.0,849.8 1461.0,850.6 1462.0,852.6 1463.0,855.1 1464.0,858.2 1465.0,861.8 1466.0,865.7 1467.0,870.8 1468.0,874.6 1469.0,878.6 1470.0,882.3 1471.0,885.6 1472.0,889.5 1473.0,893.6 1474.0,896.4 1475.0,899.2 1476.0,901.3 1477.0,902.9 1478.0,906.2 1479.0,908.4 1480.0,909.0 1481.0,909.4 1482.0,911.6 1483.0,912.6 1484.0,913.4 1485.0,914.6 1486.0,915.0 1487.0,917.1 1488.0,918.5 1489.0,918.2 1490.0,917.1 1491.0,917.2 1492.0,918.3 1493.0,918.3 1494.0,919.3 1495.0,918.7 1496.0,918.4 1497.0,919.6 1498.0,919.2 1499.0,920.2 1500.0,920.1 1501.0,919.4 1502.0,920.3 1503.0,919.2 1504.0,918.6 1505.0,919.3 1506.0,920.6 1507.0,921.8 1508.0,921.8 1509.0,921.5 1510.0,920.1 1511.0,920.2 1512.0,921.2 1513.0,921.8 1514.0,922.9 1515.0,923.5 1516.0,923.2 1517.0,922.6 1518.0,921.7 1519.0,921.4 1520.0,921.3 1521.0,921.8 1522.0,921.9 1523.0,921.3 1524.0,921.6 1525.0,921.5 1526.0,922.2 1527.0,922.2 1528.0,922.1 1529.0,922.0 1530.0,922.6 1531.0,922.8 1532.0,922.7 1533.0,924.2 1534.0,922.4 1535.0,920.8 1536.0,922.0 1537.0,923.2 1538.0,923.1 1539.0,922.7 1540.0,922.6 1541.0,922.7 1542.0,922.5 1543.0,922.6 1544.0,921.7 1545.0,920.3 1546.0,922.9 1547.0,924.0 1548.0,922.6 1549.0,923.7 1550.0,924.8 1551.0,924.2 1552.0,923.5 1553.0,923.2 1554.0,923.7 1555.0,922.5 1556.0,922.6 1557.0,923.4 1558.0,923.8 1559.0,924.6 1560.0,923.6 1561.0,922.6 1562.0,923.1 1563.0,923.8 1564.0,923.5 1565.0,923.1 1566.0,923.6 1567.0,923.9 1568.0,924.3 1569.0,924.2 1570.0,923.1 1571.0,922.0 1572.0,923.0 1573.0,923.7 1574.0,923.1 1575.0,923.2 1576.0,922.5 1577.0,922.5 1578.0,922.0 1579.0,922.0 1580.0,922.9 1581.0,924.1 1582.0,924.9 1583.0,923.8 1584.0,923.6 1585.0,924.2 1586.0,923.7 1587.0,923.2 1588.0,923.4 1589.0,924.9 1590.0,925.1 1591.0,922.7 1592.0,923.2 1593.0,925.6 1594.0,924.7 1595.0,925.2 1596.0,925.7 1597.0,924.4 1598.0,924.1 1599.0,923.4 1600.0,923.1 1601.0,922.7 1602.0,922.2 1603.0,923.4 1604.0,923.9 1605.0,923.5 1606.0,924.3 1607.0,923.8 1608.0,923.7 1609.0,924.0 1610.0,923.7 1611.0,923.8 1612.0,924.1 1613.0,923.5 1614.0,922.8 1615.0,922.9 1616.0,923.7 1617.0,924.9 1618.0,925.7 1619.0,925.1 1620.0,924.8 1621.0,924.7 1622.0,924.8 1623.0,924.8 1624.0,924.5 1625.0,924.3 1626.0,924.0 1627.0,925.2 1628.0,924.6 1629.0,923.6 1630.0,923.9 1631.0,924.5 1632.0,925.8 1633.0,925.1 1634.0,922.6 1635.0,923.1 1636.0,925.0 1637.0,923.7 1638.0,923.3 1639.0,924.2 1640.0,923.1 1641.0,923.5 1642.0,925.0 1643.0,924.8 1644.0,924.0 1645.0,923.5 1646.0,923.7 1647.0,924.4 1648.0,924.2 1649.0,924.7 1650.0,925.5 1651.0,923.5 1652.0,924.2 1653.0,925.5 1654.0,924.3 1655.0,924.3 1656.0,923.6 1657.0,923.6 1658.0,923.3 1659.0,922.7 1660.0,924.8 1661.0,926.0 1662.0,925.1 1663.0,923.9 1664.0,924.6 1665.0,925.1 1666.0,924.7 1667.0,925.1 1668.0,924.4 1669.0,924.5 1670.0,924.0 1671.0,924.3 1672.0,924.6 1673.0,923.5 1674.0,924.0 1675.0,924.8 1676.0,925.5 1677.0,925.3 1678.0,925.2 1679.0,925.3 1680.0,925.0 1681.0,923.7 1682.0,922.5 1683.0,922.3 1684.0,923.5 1685.0,924.7 1686.0,924.6 1687.0,924.9 1688.0,924.8 1689.0,924.2 1690.0,923.5 1691.0,923.0 1692.0,924.5 1693.0,926.1 1694.0,924.7 1695.0,924.0 1696.0,925.0 1697.0,926.0 1698.0,925.5 1699.0,924.7 1700.0,925.7 1701.0,924.7 1702.0,923.6 1703.0,924.6 1704.0,924.6 1705.0,925.8 1706.0,926.7 1707.0,925.6 1708.0,924.6 1709.0,925.0 1710.0,925.9 1711.0,925.1 1712.0,924.6 1713.0,924.0 1714.0,924.3 1715.0,925.5 1716.0,926.1 1717.0,926.0 1718.0,925.9 1719.0,925.3 1720.0,924.6 1721.0,925.6 1722.0,926.1 1723.0,925.0 1724.0,925.0 1725.0,925.9 1726.0,926.1 1727.0,925.7 1728.0,925.0 1729.0,925.2 1730.0,926.4 1731.0,926.3 1732.0,925.0 1733.0,925.1 1734.0,924.8 1735.0,924.7 1736.0,925.3 1737.0,925.7 1738.0,925.9 1739.0,926.0 1740.0,927.2 1741.0,926.5 1742.0,924.8 1743.0,925.2 1744.0,925.6 1745.0,925.4 1746.0,925.1 1747.0,925.4 1748.0,925.8 1749.0,924.3 1750.0,924.1 1751.0,925.5 1752.0,926.3 1753.0,925.8 1754.0,924.7 1755.0,925.7 1756.0,925.8 1757.0,925.2 1758.0,925.8 1759.0,926.2 1760.0,925.9 1761.0,924.9 1762.0,925.5 1763.0,925.9 1764.0,925.0 1765.0,926.4 1766.0,927.2 1767.0,925.5 1768.0,924.8 1769.0,925.2 1770.0,925.1 1771.0,924.2 1772.0,925.0 1773.0,926.5 1774.0,926.2 1775.0,925.6 1776.0,925.6 1777.0,926.1 1778.0,925.5 1779.0,924.9 1780.0,925.2 1781.0,925.8 1782.0,926.2 1783.0,925.2 1784.0,924.7 1785.0,926.4 1786.0,926.2 1787.0,925.3 1788.0,925.5 1789.0,926.1 1790.0,926.4 1791.0,925.5 1792.0,924.9 1793.0,925.0 1794.0,926.1 1795.0,926.7 1796.0,925.5 1797.0,926.0 1798.0,926.6 1799.0,925.2 1800.0,925.4 1801.0,925.6 1802.0,925.2 1803.0,925.2 1804.0,925.4 1805.0,925.5 1806.0,924.6 1807.0,925.2 1808.0,925.8 1809.0,926.2 1810.0,926.7 1811.0,926.4 1812.0,926.2 1813.0,926.6 1814.0,926.3 1815.0,925.1 1816.0,925.4 1817.0,924.5 1818.0,924.1 1819.0,925.7 1820.0,925.6 1821.0,926.2 1822.0,926.8 1823.0,926.2 1824.0,925.6 1825.0,926.1 1826.0,925.9 1827.0,925.1 1828.0,925.9 1829.0,926.4 1830.0,927.1 1831.0,926.7 1832.0,924.5 1833.0,925.0 1834.0,926.7 1835.0,926.3 1836.0,926.4 1837.0,927.5 1838.0,926.2 1839.0,925.0 1840.0,924.7 1841.0,925.2 1842.0,926.3 1843.0,926.3 1844.0,925.3 1845.0,924.5 1846.0,924.4 1847.0,923.9 1848.0,924.0 1849.0,924.0 1850.0,924.6 1851.0,925.7 1852.0,926.1 1853.0,925.9 1854.0,925.2 1855.0,925.2 1856.0,925.8 1857.0,925.7 1858.0,925.4 1859.0,925.4 1860.0,925.1 1861.0,925.2 1862.0,924.9 1863.0,925.5 1864.0,925.2 1865.0,924.9 1866.0,925.0 1867.0,925.5 1868.0,926.7 1869.0,925.5 1870.0,924.8 1871.0,924.6 1872.0,924.8 1873.0,925.6 1874.0,927.0 1875.0,926.1 1876.0,925.3 1877.0,925.8 1878.0,925.2 1879.0,926.0 1880.0,926.2 1881.0,925.9 1882.0,925.5 1883.0,925.3 1884.0,925.4 1885.0,926.1 1886.0,925.2 1887.0,924.3 1888.0,924.4 1889.0,924.1 1890.0,924.4 1891.0,925.5 1892.0,927.1 1893.0,927.2 1894.0,925.4 1895.0,924.7 1896.0,924.7 1897.0,924.9 1898.0,926.2 1899.0,926.3 1900.0,926.0 1901.0,925.6 1902.0,924.1 1903.0,923.1 1904.0,924.1 1905.0,925.5 1906.0,926.2 1907.0,925.7 1908.0,925.0 1909.0,925.4 1910.0,925.9 1911.0,925.7 1912.0,924.5 1913.0,925.1 1914.0,925.9 1915.0,925.6 1916.0,924.6 1917.0,924.4 1918.0,924.2 1919.0,923.1 1920.0,923.9 1921.0,924.7 1922.0,925.2 1923.0,926.2 1924.0,925.8 1925.0,926.0 1926.0,925.7 1927.0,925.1 1928.0,924.8 1929.0,924.4 1930.0,924.9 1931.0,924.7 1932.0,925.2 1933.0,924.3 1934.0,924.0 1935.0,924.6 1936.0,924.6 1937.0,925.2 1938.0,924.9 1939.0,924.5 1940.0,924.1 1941.0,924.6 1942.0,924.8 1943.0,924.8 1944.0,924.3 1945.0,924.8 1946.0,925.0 1947.0,924.9 1948.0,925.2 1949.0,924.9 1950.0,925.0 1951.0,925.1 1952.0,925.2 1953.0,925.5 1954.0,925.8 1955.0,925.5 1956.0,926.0 1957.0,925.3 1958.0,925.0 1959.0,925.4 1960.0,923.9 1961.0,924.1 1962.0,924.8 1963.0,925.5 1964.0,925.3 1965.0,924.4 1966.0,924.8 1967.0,923.7 1968.0,923.8 1969.0,924.3 1970.0,924.8 1971.0,926.2 1972.0,925.4 1973.0,923.6 1974.0,923.7 1975.0,924.7 1976.0,924.9 1977.0,924.7 1978.0,923.6 1979.0,923.7 1980.0,923.8 1981.0,924.8 1982.0,924.9 1983.0,923.6 1984.0,923.9 1985.0,923.6 1986.0,923.3 1987.0,923.9 1988.0,923.9 1989.0,923.8 1990.0,924.7 1991.0,925.0 1992.0,923.6 1993.0,923.1 1994.0,924.2 1995.0,924.1 1996.0,923.7 1997.0,924.0 1998.0,924.2 1999.0,924.1 2000.0,923.7 2001.0,923.3 2002.0,923.5 2003.0,923.5 2004.0,924.2 2005.0,924.7 2006.0,923.6 2007.0,924.0 2008.0,924.0 2009.0,923.6 2010.0,923.6 2011.0,923.1 2012.0,922.6 2013.0,922.6 2014.0,923.6 2015.0,923.6 2016.0,922.7 2017.0,922.8 2018.0,923.3 2019.0,924.6 2020.0,923.6 2021.0,922.8 2022.0,923.3 2023.0,922.7 2024.0,922.9 2025.0,922.3 2026.0,922.3 2027.0,923.0 2028.0,922.0 2029.0,922.6 2030.0,923.5 2031.0,923.1 2032.0,921.7 2033.0,920.8 2034.0,921.1 2035.0,921.4 2036.0,922.3 2037.0,920.7 2038.0,919.8 2039.0,920.5 2040.0,920.8 2041.0,920.5 2042.0,919.0 2043.0,918.6 2044.0,918.3 2045.0,917.6 2046.0,917.7 2047.0,917.3 2048.0,916.9 2049.0,915.6 2050.0,915.9 2051.0,916.4 2052.0,914.4 2053.0,911.7 2054.0,908.6 2055.0,907.0 2056.0,905.8 2057.0,904.9 2058.0,902.7 2059.0,897.7 2060.0,893.6 2061.0,889.9 2062.0,884.1 2063.0,878.2 2064.0,872.0 2065.0,864.1 2066.0,855.9 2067.0,848.5 2068.0,842.0 2069.0,833.8 2070.0,825.4 2071.0,820.4 2072.0,815.2 2073.0,813.2 2074.0,813.7 2075.0,813.8 2076.0,816.6 2077.0,817.8 2078.0,819.4 2079.0,825.2 2080.0,829.8 2081.0,833.2 2082.0,838.4 2083.0,844.0 2084.0,849.7 2085.0,854.3 2086.0,858.4 2087.0,863.1 2088.0,868.1 2089.0,873.3 2090.0,877.4 2091.0,881.6 2092.0,884.8 2093.0,887.6 2094.0,892.2 2095.0,895.5 2096.0,897.4 2097.0,898.7 2098.0,900.4 2099.0,902.8 2100.0,905.2 2101.0,906.8 2102.0,907.4 2103.0,908.4 2104.0,910.7 2105.0,912.6 2106.0,912.5 2107.0,912.7 2108.0,913.4 2109.0,914.0 2110.0,917.4 2111.0,918.3 2112.0,916.7 2113.0,916.8 2114.0,916.8 2115.0,916.5 2116.0,917.5 2117.0,918.7 2118.0,919.8 2119.0,919.3 2120.0,919.0 2121.0,920.9 2122.0,919.8 2123.0,919.7 2124.0,920.1 2125.0,920.2 2126.0,922.0 2127.0,921.9 2128.0,921.5 2129.0,921.3 2130.0,921.4 2131.0,922.5 2132.0,922.4 2133.0,921.9 2134.0,922.3 2135.0,922.9 2136.0,922.0 2137.0,921.7 2138.0,922.3 2139.0,922.6 2140.0,923.6 2141.0,923.6 2142.0,923.9 2143.0,923.3 2144.0,922.4 2145.0,922.5 2146.0,922.8 2147.0,923.5 2148.0,923.4 2149.0,922.8 2150.0,922.9 2151.0,923.4 2152.0,923.8 2153.0,924.0 2154.0,924.3 2155.0,924.6 2156.0,923.1 2157.0,922.9 2158.0,923.2 2159.0,923.8 2160.0,925.4 2161.0,924.9 2162.0,924.4 2163.0,923.7 2164.0,922.3 2165.0,922.8 2166.0,923.9 2167.0,923.4 2168.0,923.7 2169.0,924.7 2170.0,925.0 2171.0,925.7 2172.0,925.8 2173.0,924.8 2174.0,924.5 2175.0,925.0 2176.0,924.4 2177.0,924.8 2178.0,925.9 2179.0,925.1 2180.0,924.3 2181.0,926.5 2182.0,927.3 2183.0,925.8 2184.0,926.3 2185.0,926.3 2186.0,925.5 2187.0,925.4 2188.0,924.8 2189.0,924.8 2190.0,924.5 2191.0,924.4 2192.0,925.5 2193.0,924.5 2194.0,925.2 2195.0,925.4 2196.0,925.0 2197.0,925.3 2198.0,925.0 2199.0,924.9 2200.0,926.1 2201.0,927.0 2202.0,926.7 2203.0,926.5 2204.0,926.0 2205.0,925.6 2206.0,925.1 2207.0,925.4 2208.0,925.6 2209.0,925.2 2210.0,924.4 2211.0,924.3 2212.0,925.4 2213.0,925.3 2214.0,925.2 2215.0,925.4 2216.0,924.7 2217.0,924.3 2218.0,924.4 2219.0,924.8 2220.0,925.0 2221.0,925.8 2222.0,925.4 2223.0,923.7 2224.0,924.6 2225.0,925.5 2226.0,925.1 2227.0,926.7 2228.0,927.6 2229.0,926.5 2230.0,926.3 2231.0,926.0 2232.0,926.0 2233.0,925.6 2234.0,924.7 2235.0,924.8 2236.0,926.1 2237.0,927.2 2238.0,926.0 2239.0,925.8 2240.0,926.0 2241.0,926.0 2242.0,925.9 2243.0,925.9 2244.0,926.0 2245.0,925.3 2246.0,925.4 2247.0,925.6 2248.0,925.3 2249.0,924.5 2250.0,925.7 2251.0,926.3 2252.0,924.4 2253.0,923.4 2254.0,922.8 2255.0,923.7 2256.0,926.0 2257.0,925.4 2258.0,924.5 2259.0,924.4 2260.0,925.2 2261.0,926.4 2262.0,926.0 2263.0,926.5 2264.0,927.2 2265.0,927.1 2266.0,925.9 2267.0,924.6 2268.0,924.4 2269.0,924.1 2270.0,925.7 2271.0,926.5 2272.0,925.6 2273.0,925.8 2274.0,926.9 2275.0,926.5 2276.0,926.0 2277.0,926.5 2278.0,925.8 2279.0,924.6 2280.0,925.2 2281.0,925.8 2282.0,925.0 2283.0,925.6 2284.0,925.9 2285.0,926.4 2286.0,926.0 2287.0,925.4 2288.0,926.0 2289.0,925.9 2290.0,926.1 2291.0,926.0 2292.0,926.2 2293.0,926.0 2294.0,924.6 2295.0,924.9 2296.0,926.4 2297.0,926.1 2298.0,925.1 2299.0,925.2 2300.0,925.7 2301.0,925.7 2302.0,925.8 2303.0,925.0 2304.0,925.6 2305.0,926.9 2306.0,925.6 2307.0,926.0 2308.0,926.8 2309.0,926.8 2310.0,925.9 2311.0,926.0 2312.0,926.7 2313.0,924.7 2314.0,925.1 2315.0,926.0 2316.0,925.1 2317.0,925.1 2318.0,924.6 2319.0,925.1 2320.0,926.0 2321.0,925.5 2322.0,926.4 2323.0,926.6 2324.0,925.5 2325.0,924.9 2326.0,925.3 2327.0,926.4 2328.0,926.1 2329.0,924.9 2330.0,925.8 2331.0,926.3 2332.0,925.8 2333.0,926.9 2334.0,926.3 2335.0,925.3 2336.0,925.0 2337.0,924.7 2338.0,926.0 2339.0,926.8 2340.0,925.7 2341.0,925.6"/>
</g>
<g font-family="'Liberation Sans', Arial, sans-serif" font-weight="bold" font-size="85" text-anchor="middle" fill="#000">
<text transform="translate(220.0,1714.8) scale(0.97,1.05)" x="0" y="0">30</text>
<text transform="translate(573.8,1714.8) scale(0.97,1.05)" x="0" y="0">40</text>
<text transform="translate(927.5,1714.8) scale(0.97,1.05)" x="0" y="0">50</text>
<text transform="translate(1281.2,1714.8) scale(0.97,1.05)" x="0" y="0">60</text>
<text transform="translate(1635.0,1714.8) scale(0.97,1.05)" x="0" y="0">70</text>
<text transform="translate(1988.8,1714.8) scale(0.97,1.05)" x="0" y="0">80</text>
<text transform="translate(2342.5,1714.8) scale(0.97,1.05)" x="0" y="0">90</text>
</g>
<g font-family="'Liberation Sans', Arial, sans-serif" font-weight="bold" fill="#000">
<text transform="translate(971,1840) scale(1,1.022)" font-size="117">2<tspan dx="-0.9" font-family="'Liberation Serif', 'Times New Roman', serif" font-weight="normal" font-size="107" textLength="59.4" lengthAdjust="spacingAndGlyphs">θ</tspan><tspan dx="-1.1"> (degree)</tspan></text>
<text transform="translate(112,1223.3) rotate(-90)" font-size="118">Intensity (a.u.)</text>
<text transform="translate(2269.6,890.4) scale(1,1.022)" font-size="83.3" text-anchor="middle">(e)</text>
<text transform="translate(2269.6,1056.1) scale(1,1.022)" font-size="83.3" text-anchor="middle">(d)</text>
<text transform="translate(2269.6,1213.8) scale(1,1.022)" font-size="83.3" text-anchor="middle">(c)</text>
<text transform="translate(2269.6,1366) scale(1,1.022)" font-size="83.3" text-anchor="middle">(b)</text>
<text transform="translate(2269.6,1540.5) scale(1,1.022)" font-size="83.3" text-anchor="middle">(a)</text>
</g>
<g font-family="'Liberation Sans', Arial, sans-serif" fill="#000">
<text x="2086" y="166" font-size="72.5">FeCo</text>
<text transform="translate(758,239) rotate(-90)" font-size="65.5">(110)</text>
<text transform="translate(1480,780) rotate(-90)" font-size="65.5">(200)</text>
<text transform="translate(2094,754) rotate(-90)" font-size="65.5">(211)</text>
</g>
<polygon points="1997,134.5 2035,134.5 2016.3,166.5" fill="#000"/>
<polygon points="717.3,252 754.6,252 736,284" fill="#000"/>
<polygon points="1440,797.3 1476.8,797.3 1458.3,828.7" fill="#000"/>
<polygon points="2055.4,762.8 2092.8,762.8 2074.2,794.5" fill="#000"/>
</svg>
</body></html>
